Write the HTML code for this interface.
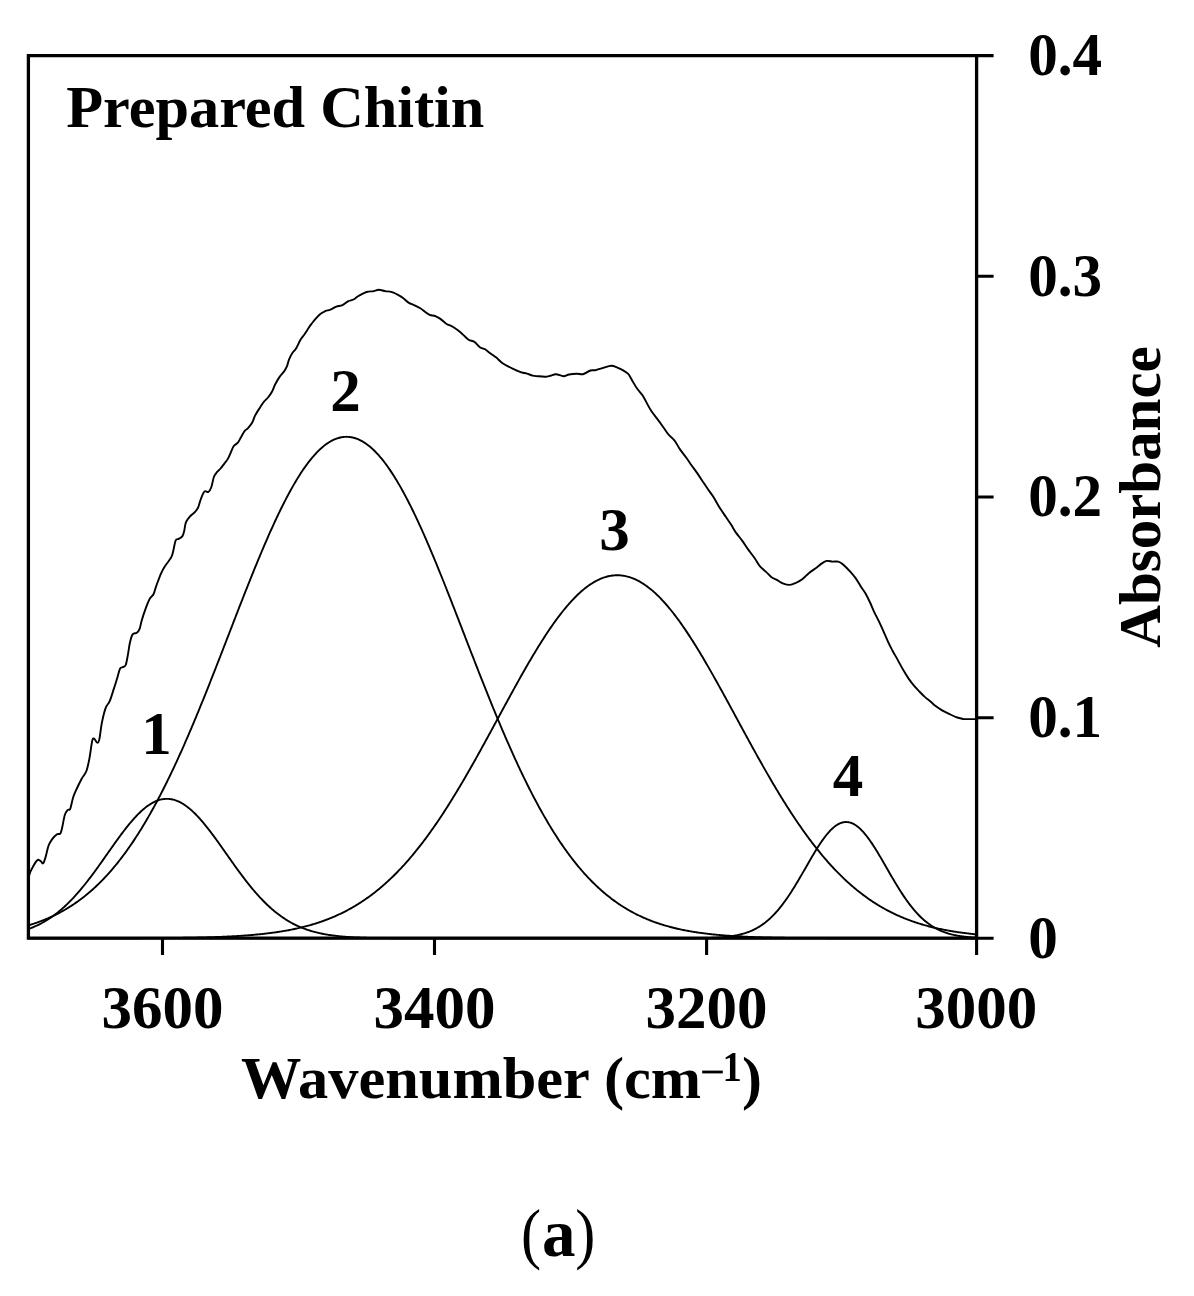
<!DOCTYPE html>
<html><head><meta charset="utf-8"><style>
html,body{margin:0;padding:0;background:#fff;width:1194px;height:1296px;overflow:hidden}
svg{display:block}
text{font-family:"Liberation Serif",serif;font-weight:bold;fill:#000}
</style></head><body>
<svg width="1194" height="1296" viewBox="0 0 1194 1296">
<rect width="1194" height="1296" fill="#fff"/>
<g fill="none" stroke="#000" stroke-width="1.9" stroke-linejoin="round" stroke-linecap="round">
<path d="M28.4,929.05 L29.4,928.68 L30.4,928.30 L31.4,927.90 L32.4,927.50 L33.4,927.08 L34.4,926.65 L35.4,926.21 L36.4,925.75 L37.4,925.28 L38.4,924.80 L39.4,924.30 L40.4,923.79 L41.4,923.26 L42.4,922.72 L43.4,922.16 L44.4,921.59 L45.4,921.01 L46.4,920.40 L47.4,919.79 L48.4,919.15 L49.4,918.50 L50.4,917.84 L51.4,917.15 L52.4,916.45 L53.4,915.74 L54.4,915.00 L55.4,914.25 L56.4,913.49 L57.4,912.70 L58.4,911.90 L59.4,911.08 L60.4,910.25 L61.4,909.39 L62.4,908.52 L63.4,907.63 L64.4,906.72 L65.4,905.80 L66.4,904.86 L67.4,903.90 L68.4,902.92 L69.4,901.93 L70.4,900.91 L71.4,899.89 L72.4,898.84 L73.4,897.78 L74.4,896.69 L75.4,895.60 L76.4,894.48 L77.4,893.35 L78.4,892.21 L79.4,891.05 L80.4,889.87 L81.4,888.68 L82.4,887.47 L83.4,886.25 L84.4,885.01 L85.4,883.76 L86.4,882.50 L87.4,881.22 L88.4,879.93 L89.4,878.63 L90.4,877.31 L91.4,875.99 L92.4,874.65 L93.4,873.31 L94.4,871.95 L95.4,870.58 L96.4,869.21 L97.4,867.83 L98.4,866.44 L99.4,865.05 L100.4,863.64 L101.4,862.24 L102.4,860.83 L103.4,859.41 L104.4,857.99 L105.4,856.57 L106.4,855.15 L107.4,853.73 L108.4,852.30 L109.4,850.88 L110.4,849.46 L111.4,848.04 L112.4,846.63 L113.4,845.22 L114.4,843.81 L115.4,842.41 L116.4,841.02 L117.4,839.64 L118.4,838.26 L119.4,836.89 L120.4,835.54 L121.4,834.19 L122.4,832.86 L123.4,831.54 L124.4,830.23 L125.4,828.94 L126.4,827.67 L127.4,826.41 L128.4,825.17 L129.4,823.95 L130.4,822.74 L131.4,821.56 L132.4,820.40 L133.4,819.26 L134.4,818.15 L135.4,817.06 L136.4,815.99 L137.4,814.95 L138.4,813.93 L139.4,812.95 L140.4,811.99 L141.4,811.05 L142.4,810.15 L143.4,809.28 L144.4,808.44 L145.4,807.63 L146.4,806.85 L147.4,806.11 L148.4,805.40 L149.4,804.72 L150.4,804.08 L151.4,803.47 L152.4,802.90 L153.4,802.37 L154.4,801.87 L155.4,801.40 L156.4,800.98 L157.4,800.59 L158.4,800.24 L159.4,799.93 L160.4,799.66 L161.4,799.42 L162.4,799.23 L163.4,799.07 L164.4,798.96 L165.4,798.88 L166.4,798.84 L167.4,798.85 L168.4,798.89 L169.4,798.97 L170.4,799.09 L171.4,799.25 L172.4,799.45 L173.4,799.68 L174.4,799.96 L175.4,800.28 L176.4,800.63 L177.4,801.02 L178.4,801.45 L179.4,801.91 L180.4,802.42 L181.4,802.96 L182.4,803.53 L183.4,804.14 L184.4,804.79 L185.4,805.47 L186.4,806.18 L187.4,806.93 L188.4,807.71 L189.4,808.52 L190.4,809.37 L191.4,810.24 L192.4,811.15 L193.4,812.08 L194.4,813.04 L195.4,814.03 L196.4,815.05 L197.4,816.10 L198.4,817.16 L199.4,818.26 L200.4,819.38 L201.4,820.52 L202.4,821.68 L203.4,822.86 L204.4,824.07 L205.4,825.29 L206.4,826.53 L207.4,827.79 L208.4,829.07 L209.4,830.36 L210.4,831.67 L211.4,832.99 L212.4,834.32 L213.4,835.67 L214.4,837.03 L215.4,838.40 L216.4,839.77 L217.4,841.16 L218.4,842.55 L219.4,843.95 L220.4,845.36 L221.4,846.77 L222.4,848.19 L223.4,849.60 L224.4,851.02 L225.4,852.45 L226.4,853.87 L227.4,855.29 L228.4,856.71 L229.4,858.13 L230.4,859.55 L231.4,860.97 L232.4,862.38 L233.4,863.78 L234.4,865.19 L235.4,866.58 L236.4,867.97 L237.4,869.35 L238.4,870.72 L239.4,872.09 L240.4,873.44 L241.4,874.79 L242.4,876.12 L243.4,877.44 L244.4,878.76 L245.4,880.06 L246.4,881.35 L247.4,882.62 L248.4,883.89 L249.4,885.13 L250.4,886.37 L251.4,887.59 L252.4,888.80 L253.4,889.99 L254.4,891.16 L255.4,892.32 L256.4,893.47 L257.4,894.60 L258.4,895.71 L259.4,896.80 L260.4,897.88 L261.4,898.94 L262.4,899.99 L263.4,901.02 L264.4,902.03 L265.4,903.02 L266.4,903.99 L267.4,904.95 L268.4,905.89 L269.4,906.82 L270.4,907.72 L271.4,908.61 L272.4,909.48 L273.4,910.33 L274.4,911.16 L275.4,911.98 L276.4,912.78 L277.4,913.56 L278.4,914.33 L279.4,915.08 L280.4,915.81 L281.4,916.52 L282.4,917.22 L283.4,917.90 L284.4,918.57 L285.4,919.22 L286.4,919.85 L287.4,920.46 L288.4,921.07 L289.4,921.65 L290.4,922.22 L291.4,922.78 L292.4,923.31 L293.4,923.84 L294.4,924.35 L295.4,924.85 L296.4,925.33 L297.4,925.80 L298.4,926.25 L299.4,926.70 L300.4,927.12 L301.4,927.54 L302.4,927.94 L303.4,928.34 L304.4,928.71 L305.4,929.08 L306.4,929.44 L307.4,929.78 L308.4,930.12 L309.4,930.44 L310.4,930.75 L311.4,931.05 L312.4,931.34 L313.4,931.62 L314.4,931.90 L315.4,932.16 L316.4,932.41 L317.4,932.66 L318.4,932.89 L319.4,933.12 L320.4,933.34 L321.4,933.55 L322.4,933.76 L323.4,933.95 L324.4,934.14 L325.4,934.32 L326.4,934.50 L327.4,934.67 L328.4,934.83 L329.4,934.98 L330.4,935.13 L331.4,935.28 L332.4,935.42 L333.4,935.55 L334.4,935.68 L335.4,935.80 L336.4,935.91 L337.4,936.03 L338.4,936.13 L339.4,936.24 L340.4,936.34 L341.4,936.43 L342.4,936.52 L343.4,936.61 L344.4,936.69 L345.4,936.77 L346.4,936.84 L347.4,936.92 L348.4,936.99 L349.4,937.05 L350.4,937.11 L351.4,937.17 L352.4,937.23 L353.4,937.29 L354.4,937.34 L355.4,937.39 L356.4,937.44 L357.4,937.48 L358.4,937.52 L359.4,937.57 L360.4,937.60 L361.4,937.64 L362.4,937.68 L363.4,937.71 L364.4,937.74 L365.4,937.77 L366.4,937.80 L367.4,937.83 L368.4,937.86 L369.4,937.88 L370.4,937.90 L371.4,937.93 L372.4,937.95 L373.4,937.97 L374.4,937.99 L375.4,938.00 L376.4,938.02 L377.4,938.04 L378.4,938.05 L379.4,938.07 L380.4,938.08 L381.4,938.09 L382.4,938.11 L383.4,938.12 L384.4,938.13 L385.4,938.14 L386.4,938.15 L387.4,938.16 L388.4,938.17 L389.4,938.17 L390.4,938.18 L391.4,938.19 L392.4,938.20 L393.4,938.20 L394.4,938.21 L395.4,938.21 L396.4,938.22 L397.4,938.22 L398.4,938.23 L399.4,938.23 L400.4,938.24 L401.4,938.24 L402.4,938.25 L403.4,938.25 L404.4,938.25 L405.4,938.26 L406.4,938.26 L407.4,938.26 L408.4,938.26 L409.4,938.27 L410.4,938.27 L411.4,938.27 L412.4,938.27 L413.4,938.27 L414.4,938.28 L415.4,938.28 L416.4,938.28 L417.4,938.28 L418.4,938.28 L419.4,938.28 L420.4,938.28 L421.4,938.29 L422.4,938.29 L423.4,938.29 L424.4,938.29 L425.4,938.29 L426.4,938.29 L427.4,938.29 L428.4,938.29 L429.4,938.29 L430.4,938.29 L431.4,938.29 L432.4,938.29 L433.4,938.29 L434.4,938.29 L435.4,938.29 L436.4,938.30 L437.4,938.30 L438.4,938.30 L439.4,938.30 L440.4,938.30 L441.4,938.30 L442.4,938.30 L443.4,938.30 L444.4,938.30 L445.4,938.30 L446.4,938.30 L447.4,938.30 L448.4,938.30 L449.4,938.30 L450.4,938.30 L451.4,938.30 L452.4,938.30 L453.4,938.30 L454.4,938.30 L455.4,938.30 L456.4,938.30 L457.4,938.30 L458.4,938.30 L459.4,938.30 L460.4,938.30 L461.4,938.30 L462.4,938.30 L463.4,938.30 L464.4,938.30 L465.4,938.30 L466.4,938.30 L467.4,938.30 L468.4,938.30 L469.4,938.30 L470.4,938.30 L471.4,938.30 L472.4,938.30 L473.4,938.30 L474.4,938.30 L475.4,938.30 L476.4,938.30 L477.4,938.30 L478.4,938.30 L479.4,938.30 L480.4,938.30 L481.4,938.30 L482.4,938.30 L483.4,938.30 L484.4,938.30 L485.4,938.30 L486.4,938.30 L487.4,938.30 L488.4,938.30 L489.4,938.30 L490.4,938.30 L491.4,938.30 L492.4,938.30 L493.4,938.30 L494.4,938.30 L495.4,938.30 L496.4,938.30 L497.4,938.30 L498.4,938.30 L499.4,938.30 L500.4,938.30 L501.4,938.30 L502.4,938.30 L503.4,938.30 L504.4,938.30 L505.4,938.30 L506.4,938.30 L507.4,938.30 L508.4,938.30 L509.4,938.30 L510.4,938.30 L511.4,938.30 L512.4,938.30 L513.4,938.30 L514.4,938.30 L515.4,938.30 L516.4,938.30 L517.4,938.30 L518.4,938.30 L519.4,938.30 L520.4,938.30 L521.4,938.30 L522.4,938.30 L523.4,938.30 L524.4,938.30 L525.4,938.30 L526.4,938.30 L527.4,938.30 L528.4,938.30 L529.4,938.30 L530.4,938.30 L531.4,938.30 L532.4,938.30 L533.4,938.30 L534.4,938.30 L535.4,938.30 L536.4,938.30 L537.4,938.30 L538.4,938.30 L539.4,938.30 L540.4,938.30 L541.4,938.30 L542.4,938.30 L543.4,938.30 L544.4,938.30 L545.4,938.30 L546.4,938.30 L547.4,938.30 L548.4,938.30 L549.4,938.30 L550.4,938.30 L551.4,938.30 L552.4,938.30 L553.4,938.30 L554.4,938.30 L555.4,938.30 L556.4,938.30 L557.4,938.30 L558.4,938.30 L559.4,938.30 L560.4,938.30 L561.4,938.30 L562.4,938.30 L563.4,938.30 L564.4,938.30 L565.4,938.30 L566.4,938.30 L567.4,938.30 L568.4,938.30 L569.4,938.30 L570.4,938.30 L571.4,938.30 L572.4,938.30 L573.4,938.30 L574.4,938.30 L575.4,938.30 L576.4,938.30 L577.4,938.30 L578.4,938.30 L579.4,938.30 L580.4,938.30 L581.4,938.30 L582.4,938.30 L583.4,938.30 L584.4,938.30 L585.4,938.30 L586.4,938.30 L587.4,938.30 L588.4,938.30 L589.4,938.30 L590.4,938.30 L591.4,938.30 L592.4,938.30 L593.4,938.30 L594.4,938.30 L595.4,938.30 L596.4,938.30 L597.4,938.30 L598.4,938.30 L599.4,938.30 L600.4,938.30 L601.4,938.30 L602.4,938.30 L603.4,938.30 L604.4,938.30 L605.4,938.30 L606.4,938.30 L607.4,938.30 L608.4,938.30 L609.4,938.30 L610.4,938.30 L611.4,938.30 L612.4,938.30 L613.4,938.30 L614.4,938.30 L615.4,938.30 L616.4,938.30 L617.4,938.30 L618.4,938.30 L619.4,938.30 L620.4,938.30 L621.4,938.30 L622.4,938.30 L623.4,938.30 L624.4,938.30 L625.4,938.30 L626.4,938.30 L627.4,938.30 L628.4,938.30 L629.4,938.30 L630.4,938.30 L631.4,938.30 L632.4,938.30 L633.4,938.30 L634.4,938.30 L635.4,938.30 L636.4,938.30 L637.4,938.30 L638.4,938.30 L639.4,938.30 L640.4,938.30 L641.4,938.30 L642.4,938.30 L643.4,938.30 L644.4,938.30 L645.4,938.30 L646.4,938.30 L647.4,938.30 L648.4,938.30 L649.4,938.30 L650.4,938.30 L651.4,938.30 L652.4,938.30 L653.4,938.30 L654.4,938.30 L655.4,938.30 L656.4,938.30 L657.4,938.30 L658.4,938.30 L659.4,938.30 L660.4,938.30 L661.4,938.30 L662.4,938.30 L663.4,938.30 L664.4,938.30 L665.4,938.30 L666.4,938.30 L667.4,938.30 L668.4,938.30 L669.4,938.30 L670.4,938.30 L671.4,938.30 L672.4,938.30 L673.4,938.30 L674.4,938.30 L675.4,938.30 L676.4,938.30 L677.4,938.30 L678.4,938.30 L679.4,938.30 L680.4,938.30 L681.4,938.30 L682.4,938.30 L683.4,938.30 L684.4,938.30 L685.4,938.30 L686.4,938.30 L687.4,938.30 L688.4,938.30 L689.4,938.30 L690.4,938.30 L691.4,938.30 L692.4,938.30 L693.4,938.30 L694.4,938.30 L695.4,938.30 L696.4,938.30 L697.4,938.30 L698.4,938.30 L699.4,938.30 L700.4,938.30 L701.4,938.30 L702.4,938.30 L703.4,938.30 L704.4,938.30 L705.4,938.30 L706.4,938.30 L707.4,938.30 L708.4,938.30 L709.4,938.30 L710.4,938.30 L711.4,938.30 L712.4,938.30 L713.4,938.30 L714.4,938.30 L715.4,938.30 L716.4,938.30 L717.4,938.30 L718.4,938.30 L719.4,938.30 L720.4,938.30 L721.4,938.30 L722.4,938.30 L723.4,938.30 L724.4,938.30 L725.4,938.30 L726.4,938.30 L727.4,938.30 L728.4,938.30 L729.4,938.30 L730.4,938.30 L731.4,938.30 L732.4,938.30 L733.4,938.30 L734.4,938.30 L735.4,938.30 L736.4,938.30 L737.4,938.30 L738.4,938.30 L739.4,938.30 L740.4,938.30 L741.4,938.30 L742.4,938.30 L743.4,938.30 L744.4,938.30 L745.4,938.30 L746.4,938.30 L747.4,938.30 L748.4,938.30 L749.4,938.30 L750.4,938.30 L751.4,938.30 L752.4,938.30 L753.4,938.30 L754.4,938.30 L755.4,938.30 L756.4,938.30 L757.4,938.30 L758.4,938.30 L759.4,938.30 L760.4,938.30 L761.4,938.30 L762.4,938.30 L763.4,938.30 L764.4,938.30 L765.4,938.30 L766.4,938.30 L767.4,938.30 L768.4,938.30 L769.4,938.30 L770.4,938.30 L771.4,938.30 L772.4,938.30 L773.4,938.30 L774.4,938.30 L775.4,938.30 L776.4,938.30 L777.4,938.30 L778.4,938.30 L779.4,938.30 L780.4,938.30 L781.4,938.30 L782.4,938.30 L783.4,938.30 L784.4,938.30 L785.4,938.30 L786.4,938.30 L787.4,938.30 L788.4,938.30 L789.4,938.30 L790.4,938.30 L791.4,938.30 L792.4,938.30 L793.4,938.30 L794.4,938.30 L795.4,938.30 L796.4,938.30 L797.4,938.30 L798.4,938.30 L799.4,938.30 L800.4,938.30 L801.4,938.30 L802.4,938.30 L803.4,938.30 L804.4,938.30 L805.4,938.30 L806.4,938.30 L807.4,938.30 L808.4,938.30 L809.4,938.30 L810.4,938.30 L811.4,938.30 L812.4,938.30 L813.4,938.30 L814.4,938.30 L815.4,938.30 L816.4,938.30 L817.4,938.30 L818.4,938.30 L819.4,938.30 L820.4,938.30 L821.4,938.30 L822.4,938.30 L823.4,938.30 L824.4,938.30 L825.4,938.30 L826.4,938.30 L827.4,938.30 L828.4,938.30 L829.4,938.30 L830.4,938.30 L831.4,938.30 L832.4,938.30 L833.4,938.30 L834.4,938.30 L835.4,938.30 L836.4,938.30 L837.4,938.30 L838.4,938.30 L839.4,938.30 L840.4,938.30 L841.4,938.30 L842.4,938.30 L843.4,938.30 L844.4,938.30 L845.4,938.30 L846.4,938.30 L847.4,938.30 L848.4,938.30 L849.4,938.30 L850.4,938.30 L851.4,938.30 L852.4,938.30 L853.4,938.30 L854.4,938.30 L855.4,938.30 L856.4,938.30 L857.4,938.30 L858.4,938.30 L859.4,938.30 L860.4,938.30 L861.4,938.30 L862.4,938.30 L863.4,938.30 L864.4,938.30 L865.4,938.30 L866.4,938.30 L867.4,938.30 L868.4,938.30 L869.4,938.30 L870.4,938.30 L871.4,938.30 L872.4,938.30 L873.4,938.30 L874.4,938.30 L875.4,938.30 L876.4,938.30 L877.4,938.30 L878.4,938.30 L879.4,938.30 L880.4,938.30 L881.4,938.30 L882.4,938.30 L883.4,938.30 L884.4,938.30 L885.4,938.30 L886.4,938.30 L887.4,938.30 L888.4,938.30 L889.4,938.30 L890.4,938.30 L891.4,938.30 L892.4,938.30 L893.4,938.30 L894.4,938.30 L895.4,938.30 L896.4,938.30 L897.4,938.30 L898.4,938.30 L899.4,938.30 L900.4,938.30 L901.4,938.30 L902.4,938.30 L903.4,938.30 L904.4,938.30 L905.4,938.30 L906.4,938.30 L907.4,938.30 L908.4,938.30 L909.4,938.30 L910.4,938.30 L911.4,938.30 L912.4,938.30 L913.4,938.30 L914.4,938.30 L915.4,938.30 L916.4,938.30 L917.4,938.30 L918.4,938.30 L919.4,938.30 L920.4,938.30 L921.4,938.30 L922.4,938.30 L923.4,938.30 L924.4,938.30 L925.4,938.30 L926.4,938.30 L927.4,938.30 L928.4,938.30 L929.4,938.30 L930.4,938.30 L931.4,938.30 L932.4,938.30 L933.4,938.30 L934.4,938.30 L935.4,938.30 L936.4,938.30 L937.4,938.30 L938.4,938.30 L939.4,938.30 L940.4,938.30 L941.4,938.30 L942.4,938.30 L943.4,938.30 L944.4,938.30 L945.4,938.30 L946.4,938.30 L947.4,938.30 L948.4,938.30 L949.4,938.30 L950.4,938.30 L951.4,938.30 L952.4,938.30 L953.4,938.30 L954.4,938.30 L955.4,938.30 L956.4,938.30 L957.4,938.30 L958.4,938.30 L959.4,938.30 L960.4,938.30 L961.4,938.30 L962.4,938.30 L963.4,938.30 L964.4,938.30 L965.4,938.30 L966.4,938.30 L967.4,938.30 L968.4,938.30 L969.4,938.30 L970.4,938.30 L971.4,938.30 L972.4,938.30 L973.4,938.30 L974.4,938.30 L975.4,938.30 L976.4,938.30"/>
<path d="M28.4,925.36 L29.4,925.06 L30.4,924.75 L31.4,924.44 L32.4,924.12 L33.4,923.79 L34.4,923.46 L35.4,923.12 L36.4,922.78 L37.4,922.43 L38.4,922.07 L39.4,921.70 L40.4,921.33 L41.4,920.95 L42.4,920.57 L43.4,920.17 L44.4,919.77 L45.4,919.36 L46.4,918.95 L47.4,918.53 L48.4,918.09 L49.4,917.65 L50.4,917.21 L51.4,916.75 L52.4,916.29 L53.4,915.82 L54.4,915.33 L55.4,914.85 L56.4,914.35 L57.4,913.84 L58.4,913.33 L59.4,912.80 L60.4,912.27 L61.4,911.72 L62.4,911.17 L63.4,910.61 L64.4,910.04 L65.4,909.46 L66.4,908.87 L67.4,908.26 L68.4,907.65 L69.4,907.03 L70.4,906.40 L71.4,905.76 L72.4,905.11 L73.4,904.44 L74.4,903.77 L75.4,903.09 L76.4,902.39 L77.4,901.68 L78.4,900.97 L79.4,900.24 L80.4,899.50 L81.4,898.74 L82.4,897.98 L83.4,897.20 L84.4,896.42 L85.4,895.62 L86.4,894.80 L87.4,893.98 L88.4,893.14 L89.4,892.30 L90.4,891.43 L91.4,890.56 L92.4,889.67 L93.4,888.77 L94.4,887.86 L95.4,886.94 L96.4,886.00 L97.4,885.04 L98.4,884.08 L99.4,883.10 L100.4,882.11 L101.4,881.10 L102.4,880.08 L103.4,879.05 L104.4,878.00 L105.4,876.93 L106.4,875.86 L107.4,874.77 L108.4,873.66 L109.4,872.54 L110.4,871.41 L111.4,870.26 L112.4,869.10 L113.4,867.92 L114.4,866.72 L115.4,865.51 L116.4,864.29 L117.4,863.05 L118.4,861.80 L119.4,860.53 L120.4,859.25 L121.4,857.95 L122.4,856.63 L123.4,855.30 L124.4,853.95 L125.4,852.59 L126.4,851.21 L127.4,849.82 L128.4,848.41 L129.4,846.99 L130.4,845.55 L131.4,844.09 L132.4,842.62 L133.4,841.13 L134.4,839.62 L135.4,838.10 L136.4,836.56 L137.4,835.01 L138.4,833.44 L139.4,831.86 L140.4,830.25 L141.4,828.64 L142.4,827.00 L143.4,825.35 L144.4,823.69 L145.4,822.00 L146.4,820.31 L147.4,818.59 L148.4,816.86 L149.4,815.11 L150.4,813.35 L151.4,811.57 L152.4,809.77 L153.4,807.96 L154.4,806.14 L155.4,804.29 L156.4,802.43 L157.4,800.56 L158.4,798.67 L159.4,796.76 L160.4,794.84 L161.4,792.90 L162.4,790.95 L163.4,788.98 L164.4,787.00 L165.4,785.00 L166.4,782.98 L167.4,780.95 L168.4,778.91 L169.4,776.85 L170.4,774.78 L171.4,772.69 L172.4,770.58 L173.4,768.47 L174.4,766.33 L175.4,764.19 L176.4,762.03 L177.4,759.85 L178.4,757.66 L179.4,755.46 L180.4,753.25 L181.4,751.02 L182.4,748.78 L183.4,746.52 L184.4,744.26 L185.4,741.98 L186.4,739.68 L187.4,737.38 L188.4,735.06 L189.4,732.73 L190.4,730.39 L191.4,728.04 L192.4,725.68 L193.4,723.31 L194.4,720.92 L195.4,718.53 L196.4,716.12 L197.4,713.71 L198.4,711.28 L199.4,708.85 L200.4,706.40 L201.4,703.95 L202.4,701.49 L203.4,699.02 L204.4,696.54 L205.4,694.05 L206.4,691.55 L207.4,689.05 L208.4,686.54 L209.4,684.03 L210.4,681.50 L211.4,678.97 L212.4,676.44 L213.4,673.90 L214.4,671.35 L215.4,668.80 L216.4,666.24 L217.4,663.68 L218.4,661.12 L219.4,658.55 L220.4,655.98 L221.4,653.40 L222.4,650.83 L223.4,648.25 L224.4,645.67 L225.4,643.08 L226.4,640.50 L227.4,637.91 L228.4,635.33 L229.4,632.74 L230.4,630.15 L231.4,627.57 L232.4,624.98 L233.4,622.40 L234.4,619.82 L235.4,617.24 L236.4,614.66 L237.4,612.09 L238.4,609.52 L239.4,606.95 L240.4,604.39 L241.4,601.83 L242.4,599.28 L243.4,596.73 L244.4,594.19 L245.4,591.65 L246.4,589.12 L247.4,586.60 L248.4,584.08 L249.4,581.58 L250.4,579.08 L251.4,576.59 L252.4,574.11 L253.4,571.63 L254.4,569.17 L255.4,566.72 L256.4,564.28 L257.4,561.85 L258.4,559.43 L259.4,557.03 L260.4,554.63 L261.4,552.25 L262.4,549.88 L263.4,547.53 L264.4,545.19 L265.4,542.86 L266.4,540.55 L267.4,538.26 L268.4,535.98 L269.4,533.72 L270.4,531.47 L271.4,529.24 L272.4,527.03 L273.4,524.84 L274.4,522.66 L275.4,520.51 L276.4,518.37 L277.4,516.25 L278.4,514.16 L279.4,512.08 L280.4,510.02 L281.4,507.99 L282.4,505.97 L283.4,503.98 L284.4,502.01 L285.4,500.07 L286.4,498.14 L287.4,496.24 L288.4,494.37 L289.4,492.52 L290.4,490.69 L291.4,488.89 L292.4,487.11 L293.4,485.36 L294.4,483.64 L295.4,481.94 L296.4,480.27 L297.4,478.62 L298.4,477.01 L299.4,475.42 L300.4,473.86 L301.4,472.32 L302.4,470.82 L303.4,469.34 L304.4,467.90 L305.4,466.48 L306.4,465.10 L307.4,463.74 L308.4,462.42 L309.4,461.12 L310.4,459.86 L311.4,458.63 L312.4,457.43 L313.4,456.26 L314.4,455.12 L315.4,454.02 L316.4,452.95 L317.4,451.91 L318.4,450.90 L319.4,449.93 L320.4,448.99 L321.4,448.08 L322.4,447.21 L323.4,446.38 L324.4,445.57 L325.4,444.80 L326.4,444.07 L327.4,443.37 L328.4,442.70 L329.4,442.07 L330.4,441.48 L331.4,440.92 L332.4,440.40 L333.4,439.91 L334.4,439.45 L335.4,439.04 L336.4,438.65 L337.4,438.31 L338.4,438.00 L339.4,437.73 L340.4,437.49 L341.4,437.29 L342.4,437.12 L343.4,436.99 L344.4,436.90 L345.4,436.84 L346.4,436.82 L347.4,436.84 L348.4,436.89 L349.4,436.98 L350.4,437.10 L351.4,437.26 L352.4,437.46 L353.4,437.69 L354.4,437.96 L355.4,438.26 L356.4,438.60 L357.4,438.98 L358.4,439.39 L359.4,439.84 L360.4,440.33 L361.4,440.84 L362.4,441.40 L363.4,441.99 L364.4,442.61 L365.4,443.27 L366.4,443.97 L367.4,444.70 L368.4,445.46 L369.4,446.26 L370.4,447.09 L371.4,447.96 L372.4,448.86 L373.4,449.80 L374.4,450.76 L375.4,451.76 L376.4,452.80 L377.4,453.87 L378.4,454.96 L379.4,456.10 L380.4,457.26 L381.4,458.46 L382.4,459.68 L383.4,460.94 L384.4,462.23 L385.4,463.55 L386.4,464.91 L387.4,466.29 L388.4,467.70 L389.4,469.14 L390.4,470.61 L391.4,472.11 L392.4,473.64 L393.4,475.20 L394.4,476.78 L395.4,478.39 L396.4,480.04 L397.4,481.70 L398.4,483.40 L399.4,485.12 L400.4,486.87 L401.4,488.64 L402.4,490.44 L403.4,492.26 L404.4,494.11 L405.4,495.98 L406.4,497.88 L407.4,499.80 L408.4,501.74 L409.4,503.71 L410.4,505.69 L411.4,507.70 L412.4,509.74 L413.4,511.79 L414.4,513.86 L415.4,515.96 L416.4,518.07 L417.4,520.21 L418.4,522.36 L419.4,524.53 L420.4,526.72 L421.4,528.93 L422.4,531.16 L423.4,533.40 L424.4,535.66 L425.4,537.94 L426.4,540.23 L427.4,542.54 L428.4,544.86 L429.4,547.20 L430.4,549.55 L431.4,551.92 L432.4,554.30 L433.4,556.69 L434.4,559.09 L435.4,561.51 L436.4,563.94 L437.4,566.38 L438.4,568.83 L439.4,571.29 L440.4,573.76 L441.4,576.24 L442.4,578.73 L443.4,581.23 L444.4,583.73 L445.4,586.25 L446.4,588.77 L447.4,591.30 L448.4,593.83 L449.4,596.37 L450.4,598.92 L451.4,601.47 L452.4,604.03 L453.4,606.59 L454.4,609.16 L455.4,611.73 L456.4,614.30 L457.4,616.88 L458.4,619.46 L459.4,622.04 L460.4,624.62 L461.4,627.21 L462.4,629.79 L463.4,632.38 L464.4,634.96 L465.4,637.55 L466.4,640.14 L467.4,642.72 L468.4,645.30 L469.4,647.89 L470.4,650.47 L471.4,653.04 L472.4,655.62 L473.4,658.19 L474.4,660.76 L475.4,663.32 L476.4,665.89 L477.4,668.44 L478.4,670.99 L479.4,673.54 L480.4,676.08 L481.4,678.62 L482.4,681.15 L483.4,683.67 L484.4,686.19 L485.4,688.70 L486.4,691.20 L487.4,693.70 L488.4,696.19 L489.4,698.67 L490.4,701.14 L491.4,703.60 L492.4,706.06 L493.4,708.50 L494.4,710.94 L495.4,713.37 L496.4,715.78 L497.4,718.19 L498.4,720.59 L499.4,722.97 L500.4,725.35 L501.4,727.71 L502.4,730.07 L503.4,732.41 L504.4,734.74 L505.4,737.06 L506.4,739.36 L507.4,741.66 L508.4,743.94 L509.4,746.21 L510.4,748.46 L511.4,750.71 L512.4,752.94 L513.4,755.15 L514.4,757.36 L515.4,759.55 L516.4,761.72 L517.4,763.89 L518.4,766.03 L519.4,768.17 L520.4,770.29 L521.4,772.39 L522.4,774.48 L523.4,776.56 L524.4,778.62 L525.4,780.67 L526.4,782.70 L527.4,784.72 L528.4,786.72 L529.4,788.70 L530.4,790.67 L531.4,792.63 L532.4,794.57 L533.4,796.49 L534.4,798.40 L535.4,800.30 L536.4,802.17 L537.4,804.03 L538.4,805.88 L539.4,807.71 L540.4,809.52 L541.4,811.32 L542.4,813.10 L543.4,814.87 L544.4,816.62 L545.4,818.35 L546.4,820.07 L547.4,821.77 L548.4,823.45 L549.4,825.12 L550.4,826.77 L551.4,828.41 L552.4,830.03 L553.4,831.63 L554.4,833.22 L555.4,834.79 L556.4,836.35 L557.4,837.89 L558.4,839.41 L559.4,840.92 L560.4,842.41 L561.4,843.88 L562.4,845.34 L563.4,846.79 L564.4,848.21 L565.4,849.62 L566.4,851.02 L567.4,852.40 L568.4,853.76 L569.4,855.11 L570.4,856.45 L571.4,857.76 L572.4,859.06 L573.4,860.35 L574.4,861.62 L575.4,862.88 L576.4,864.12 L577.4,865.34 L578.4,866.55 L579.4,867.75 L580.4,868.93 L581.4,870.10 L582.4,871.25 L583.4,872.38 L584.4,873.51 L585.4,874.61 L586.4,875.71 L587.4,876.78 L588.4,877.85 L589.4,878.90 L590.4,879.94 L591.4,880.96 L592.4,881.97 L593.4,882.96 L594.4,883.94 L595.4,884.91 L596.4,885.86 L597.4,886.80 L598.4,887.73 L599.4,888.65 L600.4,889.55 L601.4,890.44 L602.4,891.31 L603.4,892.18 L604.4,893.03 L605.4,893.86 L606.4,894.69 L607.4,895.50 L608.4,896.30 L609.4,897.09 L610.4,897.87 L611.4,898.64 L612.4,899.39 L613.4,900.13 L614.4,900.86 L615.4,901.58 L616.4,902.29 L617.4,902.99 L618.4,903.67 L619.4,904.35 L620.4,905.01 L621.4,905.67 L622.4,906.31 L623.4,906.94 L624.4,907.57 L625.4,908.18 L626.4,908.78 L627.4,909.37 L628.4,909.96 L629.4,910.53 L630.4,911.09 L631.4,911.65 L632.4,912.19 L633.4,912.73 L634.4,913.25 L635.4,913.77 L636.4,914.28 L637.4,914.78 L638.4,915.27 L639.4,915.75 L640.4,916.22 L641.4,916.69 L642.4,917.14 L643.4,917.59 L644.4,918.03 L645.4,918.47 L646.4,918.89 L647.4,919.31 L648.4,919.72 L649.4,920.12 L650.4,920.51 L651.4,920.90 L652.4,921.28 L653.4,921.65 L654.4,922.02 L655.4,922.38 L656.4,922.73 L657.4,923.08 L658.4,923.41 L659.4,923.75 L660.4,924.07 L661.4,924.39 L662.4,924.71 L663.4,925.01 L664.4,925.32 L665.4,925.61 L666.4,925.90 L667.4,926.18 L668.4,926.46 L669.4,926.74 L670.4,927.00 L671.4,927.26 L672.4,927.52 L673.4,927.77 L674.4,928.02 L675.4,928.26 L676.4,928.50 L677.4,928.73 L678.4,928.95 L679.4,929.18 L680.4,929.39 L681.4,929.61 L682.4,929.81 L683.4,930.02 L684.4,930.22 L685.4,930.41 L686.4,930.60 L687.4,930.79 L688.4,930.97 L689.4,931.15 L690.4,931.33 L691.4,931.50 L692.4,931.67 L693.4,931.83 L694.4,931.99 L695.4,932.15 L696.4,932.30 L697.4,932.45 L698.4,932.60 L699.4,932.74 L700.4,932.88 L701.4,933.02 L702.4,933.15 L703.4,933.29 L704.4,933.41 L705.4,933.54 L706.4,933.66 L707.4,933.78 L708.4,933.90 L709.4,934.01 L710.4,934.12 L711.4,934.23 L712.4,934.34 L713.4,934.44 L714.4,934.54 L715.4,934.64 L716.4,934.74 L717.4,934.83 L718.4,934.92 L719.4,935.01 L720.4,935.10 L721.4,935.19 L722.4,935.27 L723.4,935.35 L724.4,935.43 L725.4,935.51 L726.4,935.58 L727.4,935.66 L728.4,935.73 L729.4,935.80 L730.4,935.87 L731.4,935.93 L732.4,936.00 L733.4,936.06 L734.4,936.12 L735.4,936.18 L736.4,936.24 L737.4,936.30 L738.4,936.36 L739.4,936.41 L740.4,936.46 L741.4,936.51 L742.4,936.56 L743.4,936.61 L744.4,936.66 L745.4,936.71 L746.4,936.75 L747.4,936.80 L748.4,936.84 L749.4,936.88 L750.4,936.92 L751.4,936.96 L752.4,937.00 L753.4,937.04 L754.4,937.08 L755.4,937.11 L756.4,937.15 L757.4,937.18 L758.4,937.21 L759.4,937.24 L760.4,937.28 L761.4,937.31 L762.4,937.34 L763.4,937.36 L764.4,937.39 L765.4,937.42 L766.4,937.45 L767.4,937.47 L768.4,937.50 L769.4,937.52 L770.4,937.54 L771.4,937.57 L772.4,937.59 L773.4,937.61 L774.4,937.63 L775.4,937.65 L776.4,937.67 L777.4,937.69 L778.4,937.71 L779.4,937.73 L780.4,937.75 L781.4,937.76 L782.4,937.78 L783.4,937.80 L784.4,937.81 L785.4,937.83 L786.4,937.84 L787.4,937.86 L788.4,937.87 L789.4,937.88 L790.4,937.90 L791.4,937.91 L792.4,937.92 L793.4,937.93 L794.4,937.94 L795.4,937.96 L796.4,937.97 L797.4,937.98 L798.4,937.99 L799.4,938.00 L800.4,938.01 L801.4,938.02 L802.4,938.03 L803.4,938.04 L804.4,938.04 L805.4,938.05 L806.4,938.06 L807.4,938.07 L808.4,938.08 L809.4,938.08 L810.4,938.09 L811.4,938.10 L812.4,938.10 L813.4,938.11 L814.4,938.12 L815.4,938.12 L816.4,938.13 L817.4,938.13 L818.4,938.14 L819.4,938.15 L820.4,938.15 L821.4,938.16 L822.4,938.16 L823.4,938.17 L824.4,938.17 L825.4,938.17 L826.4,938.18 L827.4,938.18 L828.4,938.19 L829.4,938.19 L830.4,938.19 L831.4,938.20 L832.4,938.20 L833.4,938.20 L834.4,938.21 L835.4,938.21 L836.4,938.21 L837.4,938.22 L838.4,938.22 L839.4,938.22 L840.4,938.23 L841.4,938.23 L842.4,938.23 L843.4,938.23 L844.4,938.24 L845.4,938.24 L846.4,938.24 L847.4,938.24 L848.4,938.24 L849.4,938.25 L850.4,938.25 L851.4,938.25 L852.4,938.25 L853.4,938.25 L854.4,938.26 L855.4,938.26 L856.4,938.26 L857.4,938.26 L858.4,938.26 L859.4,938.26 L860.4,938.26 L861.4,938.27 L862.4,938.27 L863.4,938.27 L864.4,938.27 L865.4,938.27 L866.4,938.27 L867.4,938.27 L868.4,938.27 L869.4,938.27 L870.4,938.28 L871.4,938.28 L872.4,938.28 L873.4,938.28 L874.4,938.28 L875.4,938.28 L876.4,938.28 L877.4,938.28 L878.4,938.28 L879.4,938.28 L880.4,938.28 L881.4,938.28 L882.4,938.28 L883.4,938.29 L884.4,938.29 L885.4,938.29 L886.4,938.29 L887.4,938.29 L888.4,938.29 L889.4,938.29 L890.4,938.29 L891.4,938.29 L892.4,938.29 L893.4,938.29 L894.4,938.29 L895.4,938.29 L896.4,938.29 L897.4,938.29 L898.4,938.29 L899.4,938.29 L900.4,938.29 L901.4,938.29 L902.4,938.29 L903.4,938.29 L904.4,938.29 L905.4,938.29 L906.4,938.29 L907.4,938.29 L908.4,938.29 L909.4,938.29 L910.4,938.29 L911.4,938.30 L912.4,938.30 L913.4,938.30 L914.4,938.30 L915.4,938.30 L916.4,938.30 L917.4,938.30 L918.4,938.30 L919.4,938.30 L920.4,938.30 L921.4,938.30 L922.4,938.30 L923.4,938.30 L924.4,938.30 L925.4,938.30 L926.4,938.30 L927.4,938.30 L928.4,938.30 L929.4,938.30 L930.4,938.30 L931.4,938.30 L932.4,938.30 L933.4,938.30 L934.4,938.30 L935.4,938.30 L936.4,938.30 L937.4,938.30 L938.4,938.30 L939.4,938.30 L940.4,938.30 L941.4,938.30 L942.4,938.30 L943.4,938.30 L944.4,938.30 L945.4,938.30 L946.4,938.30 L947.4,938.30 L948.4,938.30 L949.4,938.30 L950.4,938.30 L951.4,938.30 L952.4,938.30 L953.4,938.30 L954.4,938.30 L955.4,938.30 L956.4,938.30 L957.4,938.30 L958.4,938.30 L959.4,938.30 L960.4,938.30 L961.4,938.30 L962.4,938.30 L963.4,938.30 L964.4,938.30 L965.4,938.30 L966.4,938.30 L967.4,938.30 L968.4,938.30 L969.4,938.30 L970.4,938.30 L971.4,938.30 L972.4,938.30 L973.4,938.30 L974.4,938.30 L975.4,938.30 L976.4,938.30"/>
<path d="M28.4,938.30 L29.4,938.30 L30.4,938.30 L31.4,938.30 L32.4,938.30 L33.4,938.30 L34.4,938.30 L35.4,938.30 L36.4,938.30 L37.4,938.30 L38.4,938.30 L39.4,938.30 L40.4,938.30 L41.4,938.30 L42.4,938.30 L43.4,938.30 L44.4,938.30 L45.4,938.30 L46.4,938.30 L47.4,938.30 L48.4,938.30 L49.4,938.30 L50.4,938.30 L51.4,938.30 L52.4,938.30 L53.4,938.29 L54.4,938.29 L55.4,938.29 L56.4,938.29 L57.4,938.29 L58.4,938.29 L59.4,938.29 L60.4,938.29 L61.4,938.29 L62.4,938.29 L63.4,938.29 L64.4,938.29 L65.4,938.29 L66.4,938.29 L67.4,938.29 L68.4,938.29 L69.4,938.29 L70.4,938.29 L71.4,938.29 L72.4,938.29 L73.4,938.29 L74.4,938.29 L75.4,938.29 L76.4,938.29 L77.4,938.29 L78.4,938.29 L79.4,938.29 L80.4,938.29 L81.4,938.29 L82.4,938.28 L83.4,938.28 L84.4,938.28 L85.4,938.28 L86.4,938.28 L87.4,938.28 L88.4,938.28 L89.4,938.28 L90.4,938.28 L91.4,938.28 L92.4,938.28 L93.4,938.28 L94.4,938.28 L95.4,938.27 L96.4,938.27 L97.4,938.27 L98.4,938.27 L99.4,938.27 L100.4,938.27 L101.4,938.27 L102.4,938.27 L103.4,938.27 L104.4,938.27 L105.4,938.26 L106.4,938.26 L107.4,938.26 L108.4,938.26 L109.4,938.26 L110.4,938.26 L111.4,938.26 L112.4,938.25 L113.4,938.25 L114.4,938.25 L115.4,938.25 L116.4,938.25 L117.4,938.24 L118.4,938.24 L119.4,938.24 L120.4,938.24 L121.4,938.24 L122.4,938.23 L123.4,938.23 L124.4,938.23 L125.4,938.23 L126.4,938.22 L127.4,938.22 L128.4,938.22 L129.4,938.22 L130.4,938.21 L131.4,938.21 L132.4,938.21 L133.4,938.20 L134.4,938.20 L135.4,938.20 L136.4,938.19 L137.4,938.19 L138.4,938.19 L139.4,938.18 L140.4,938.18 L141.4,938.17 L142.4,938.17 L143.4,938.16 L144.4,938.16 L145.4,938.16 L146.4,938.15 L147.4,938.15 L148.4,938.14 L149.4,938.14 L150.4,938.13 L151.4,938.12 L152.4,938.12 L153.4,938.11 L154.4,938.11 L155.4,938.10 L156.4,938.09 L157.4,938.09 L158.4,938.08 L159.4,938.07 L160.4,938.06 L161.4,938.06 L162.4,938.05 L163.4,938.04 L164.4,938.03 L165.4,938.02 L166.4,938.01 L167.4,938.01 L168.4,938.00 L169.4,937.99 L170.4,937.98 L171.4,937.97 L172.4,937.95 L173.4,937.94 L174.4,937.93 L175.4,937.92 L176.4,937.91 L177.4,937.90 L178.4,937.88 L179.4,937.87 L180.4,937.86 L181.4,937.84 L182.4,937.83 L183.4,937.82 L184.4,937.80 L185.4,937.78 L186.4,937.77 L187.4,937.75 L188.4,937.74 L189.4,937.72 L190.4,937.70 L191.4,937.68 L192.4,937.66 L193.4,937.64 L194.4,937.62 L195.4,937.60 L196.4,937.58 L197.4,937.56 L198.4,937.54 L199.4,937.52 L200.4,937.49 L201.4,937.47 L202.4,937.45 L203.4,937.42 L204.4,937.39 L205.4,937.37 L206.4,937.34 L207.4,937.31 L208.4,937.28 L209.4,937.25 L210.4,937.22 L211.4,937.19 L212.4,937.16 L213.4,937.13 L214.4,937.09 L215.4,937.06 L216.4,937.02 L217.4,936.99 L218.4,936.95 L219.4,936.91 L220.4,936.87 L221.4,936.83 L222.4,936.79 L223.4,936.75 L224.4,936.70 L225.4,936.66 L226.4,936.61 L227.4,936.57 L228.4,936.52 L229.4,936.47 L230.4,936.42 L231.4,936.37 L232.4,936.31 L233.4,936.26 L234.4,936.20 L235.4,936.15 L236.4,936.09 L237.4,936.03 L238.4,935.97 L239.4,935.90 L240.4,935.84 L241.4,935.77 L242.4,935.71 L243.4,935.64 L244.4,935.56 L245.4,935.49 L246.4,935.42 L247.4,935.34 L248.4,935.26 L249.4,935.18 L250.4,935.10 L251.4,935.02 L252.4,934.93 L253.4,934.85 L254.4,934.76 L255.4,934.67 L256.4,934.57 L257.4,934.48 L258.4,934.38 L259.4,934.28 L260.4,934.18 L261.4,934.07 L262.4,933.97 L263.4,933.86 L264.4,933.74 L265.4,933.63 L266.4,933.51 L267.4,933.39 L268.4,933.27 L269.4,933.15 L270.4,933.02 L271.4,932.89 L272.4,932.76 L273.4,932.62 L274.4,932.48 L275.4,932.34 L276.4,932.19 L277.4,932.05 L278.4,931.90 L279.4,931.74 L280.4,931.58 L281.4,931.42 L282.4,931.26 L283.4,931.09 L284.4,930.92 L285.4,930.75 L286.4,930.57 L287.4,930.39 L288.4,930.20 L289.4,930.01 L290.4,929.82 L291.4,929.62 L292.4,929.42 L293.4,929.22 L294.4,929.01 L295.4,928.79 L296.4,928.58 L297.4,928.36 L298.4,928.13 L299.4,927.90 L300.4,927.67 L301.4,927.43 L302.4,927.18 L303.4,926.93 L304.4,926.68 L305.4,926.42 L306.4,926.16 L307.4,925.89 L308.4,925.62 L309.4,925.34 L310.4,925.06 L311.4,924.77 L312.4,924.48 L313.4,924.18 L314.4,923.87 L315.4,923.56 L316.4,923.25 L317.4,922.92 L318.4,922.60 L319.4,922.26 L320.4,921.93 L321.4,921.58 L322.4,921.23 L323.4,920.87 L324.4,920.51 L325.4,920.14 L326.4,919.76 L327.4,919.38 L328.4,918.99 L329.4,918.60 L330.4,918.20 L331.4,917.79 L332.4,917.37 L333.4,916.95 L334.4,916.52 L335.4,916.08 L336.4,915.64 L337.4,915.19 L338.4,914.73 L339.4,914.26 L340.4,913.79 L341.4,913.31 L342.4,912.82 L343.4,912.32 L344.4,911.82 L345.4,911.31 L346.4,910.79 L347.4,910.26 L348.4,909.72 L349.4,909.18 L350.4,908.63 L351.4,908.06 L352.4,907.49 L353.4,906.92 L354.4,906.33 L355.4,905.73 L356.4,905.13 L357.4,904.52 L358.4,903.90 L359.4,903.27 L360.4,902.63 L361.4,901.98 L362.4,901.32 L363.4,900.65 L364.4,899.97 L365.4,899.29 L366.4,898.59 L367.4,897.89 L368.4,897.17 L369.4,896.45 L370.4,895.71 L371.4,894.97 L372.4,894.22 L373.4,893.45 L374.4,892.68 L375.4,891.89 L376.4,891.10 L377.4,890.29 L378.4,889.48 L379.4,888.65 L380.4,887.82 L381.4,886.97 L382.4,886.12 L383.4,885.25 L384.4,884.37 L385.4,883.48 L386.4,882.58 L387.4,881.67 L388.4,880.75 L389.4,879.82 L390.4,878.88 L391.4,877.92 L392.4,876.96 L393.4,875.98 L394.4,875.00 L395.4,874.00 L396.4,872.99 L397.4,871.97 L398.4,870.94 L399.4,869.90 L400.4,868.85 L401.4,867.78 L402.4,866.70 L403.4,865.62 L404.4,864.52 L405.4,863.41 L406.4,862.29 L407.4,861.15 L408.4,860.01 L409.4,858.85 L410.4,857.69 L411.4,856.51 L412.4,855.32 L413.4,854.12 L414.4,852.91 L415.4,851.68 L416.4,850.45 L417.4,849.20 L418.4,847.94 L419.4,846.67 L420.4,845.39 L421.4,844.10 L422.4,842.80 L423.4,841.48 L424.4,840.16 L425.4,838.82 L426.4,837.47 L427.4,836.11 L428.4,834.74 L429.4,833.36 L430.4,831.97 L431.4,830.57 L432.4,829.15 L433.4,827.73 L434.4,826.30 L435.4,824.85 L436.4,823.39 L437.4,821.93 L438.4,820.45 L439.4,818.96 L440.4,817.46 L441.4,815.96 L442.4,814.44 L443.4,812.91 L444.4,811.37 L445.4,809.82 L446.4,808.27 L447.4,806.70 L448.4,805.12 L449.4,803.54 L450.4,801.94 L451.4,800.34 L452.4,798.72 L453.4,797.10 L454.4,795.47 L455.4,793.83 L456.4,792.18 L457.4,790.52 L458.4,788.86 L459.4,787.18 L460.4,785.50 L461.4,783.81 L462.4,782.11 L463.4,780.41 L464.4,778.70 L465.4,776.98 L466.4,775.25 L467.4,773.52 L468.4,771.78 L469.4,770.03 L470.4,768.28 L471.4,766.52 L472.4,764.75 L473.4,762.98 L474.4,761.21 L475.4,759.43 L476.4,757.64 L477.4,755.85 L478.4,754.05 L479.4,752.25 L480.4,750.44 L481.4,748.63 L482.4,746.82 L483.4,745.00 L484.4,743.18 L485.4,741.35 L486.4,739.52 L487.4,737.69 L488.4,735.86 L489.4,734.02 L490.4,732.19 L491.4,730.35 L492.4,728.51 L493.4,726.66 L494.4,724.82 L495.4,722.97 L496.4,721.13 L497.4,719.28 L498.4,717.43 L499.4,715.59 L500.4,713.74 L501.4,711.90 L502.4,710.05 L503.4,708.21 L504.4,706.37 L505.4,704.53 L506.4,702.69 L507.4,700.85 L508.4,699.02 L509.4,697.19 L510.4,695.36 L511.4,693.54 L512.4,691.72 L513.4,689.90 L514.4,688.09 L515.4,686.28 L516.4,684.48 L517.4,682.68 L518.4,680.89 L519.4,679.10 L520.4,677.32 L521.4,675.54 L522.4,673.77 L523.4,672.01 L524.4,670.26 L525.4,668.51 L526.4,666.77 L527.4,665.04 L528.4,663.32 L529.4,661.60 L530.4,659.90 L531.4,658.20 L532.4,656.51 L533.4,654.84 L534.4,653.17 L535.4,651.51 L536.4,649.87 L537.4,648.23 L538.4,646.61 L539.4,645.00 L540.4,643.40 L541.4,641.81 L542.4,640.23 L543.4,638.67 L544.4,637.12 L545.4,635.58 L546.4,634.06 L547.4,632.55 L548.4,631.05 L549.4,629.57 L550.4,628.10 L551.4,626.65 L552.4,625.22 L553.4,623.80 L554.4,622.39 L555.4,621.00 L556.4,619.63 L557.4,618.27 L558.4,616.93 L559.4,615.61 L560.4,614.31 L561.4,613.02 L562.4,611.75 L563.4,610.50 L564.4,609.27 L565.4,608.05 L566.4,606.85 L567.4,605.68 L568.4,604.52 L569.4,603.38 L570.4,602.27 L571.4,601.17 L572.4,600.09 L573.4,599.03 L574.4,598.00 L575.4,596.98 L576.4,595.98 L577.4,595.01 L578.4,594.06 L579.4,593.13 L580.4,592.22 L581.4,591.33 L582.4,590.47 L583.4,589.62 L584.4,588.81 L585.4,588.01 L586.4,587.23 L587.4,586.48 L588.4,585.75 L589.4,585.05 L590.4,584.37 L591.4,583.71 L592.4,583.08 L593.4,582.47 L594.4,581.88 L595.4,581.32 L596.4,580.78 L597.4,580.27 L598.4,579.78 L599.4,579.32 L600.4,578.88 L601.4,578.46 L602.4,578.07 L603.4,577.71 L604.4,577.37 L605.4,577.05 L606.4,576.76 L607.4,576.50 L608.4,576.26 L609.4,576.05 L610.4,575.86 L611.4,575.69 L612.4,575.56 L613.4,575.44 L614.4,575.36 L615.4,575.30 L616.4,575.26 L617.4,575.25 L618.4,575.27 L619.4,575.31 L620.4,575.37 L621.4,575.46 L622.4,575.58 L623.4,575.72 L624.4,575.89 L625.4,576.09 L626.4,576.31 L627.4,576.55 L628.4,576.82 L629.4,577.11 L630.4,577.43 L631.4,577.78 L632.4,578.15 L633.4,578.54 L634.4,578.96 L635.4,579.41 L636.4,579.88 L637.4,580.37 L638.4,580.89 L639.4,581.43 L640.4,582.00 L641.4,582.59 L642.4,583.20 L643.4,583.84 L644.4,584.50 L645.4,585.19 L646.4,585.90 L647.4,586.63 L648.4,587.39 L649.4,588.17 L650.4,588.97 L651.4,589.79 L652.4,590.64 L653.4,591.51 L654.4,592.40 L655.4,593.31 L656.4,594.25 L657.4,595.20 L658.4,596.18 L659.4,597.18 L660.4,598.20 L661.4,599.24 L662.4,600.30 L663.4,601.39 L664.4,602.49 L665.4,603.61 L666.4,604.75 L667.4,605.91 L668.4,607.09 L669.4,608.29 L670.4,609.51 L671.4,610.75 L672.4,612.00 L673.4,613.27 L674.4,614.57 L675.4,615.87 L676.4,617.20 L677.4,618.54 L678.4,619.90 L679.4,621.28 L680.4,622.67 L681.4,624.08 L682.4,625.50 L683.4,626.94 L684.4,628.40 L685.4,629.87 L686.4,631.35 L687.4,632.85 L688.4,634.36 L689.4,635.89 L690.4,637.43 L691.4,638.98 L692.4,640.55 L693.4,642.12 L694.4,643.71 L695.4,645.32 L696.4,646.93 L697.4,648.56 L698.4,650.20 L699.4,651.84 L700.4,653.50 L701.4,655.17 L702.4,656.85 L703.4,658.54 L704.4,660.24 L705.4,661.95 L706.4,663.66 L707.4,665.39 L708.4,667.12 L709.4,668.86 L710.4,670.61 L711.4,672.36 L712.4,674.13 L713.4,675.90 L714.4,677.67 L715.4,679.46 L716.4,681.24 L717.4,683.04 L718.4,684.84 L719.4,686.64 L720.4,688.45 L721.4,690.26 L722.4,692.08 L723.4,693.90 L724.4,695.73 L725.4,697.55 L726.4,699.39 L727.4,701.22 L728.4,703.06 L729.4,704.89 L730.4,706.74 L731.4,708.58 L732.4,710.42 L733.4,712.27 L734.4,714.11 L735.4,715.96 L736.4,717.80 L737.4,719.65 L738.4,721.50 L739.4,723.34 L740.4,725.19 L741.4,727.03 L742.4,728.87 L743.4,730.71 L744.4,732.55 L745.4,734.39 L746.4,736.23 L747.4,738.06 L748.4,739.89 L749.4,741.72 L750.4,743.54 L751.4,745.36 L752.4,747.18 L753.4,748.99 L754.4,750.80 L755.4,752.61 L756.4,754.41 L757.4,756.20 L758.4,758.00 L759.4,759.78 L760.4,761.56 L761.4,763.34 L762.4,765.11 L763.4,766.87 L764.4,768.63 L765.4,770.38 L766.4,772.13 L767.4,773.87 L768.4,775.60 L769.4,777.32 L770.4,779.04 L771.4,780.75 L772.4,782.45 L773.4,784.15 L774.4,785.84 L775.4,787.52 L776.4,789.19 L777.4,790.85 L778.4,792.51 L779.4,794.16 L780.4,795.80 L781.4,797.43 L782.4,799.05 L783.4,800.66 L784.4,802.26 L785.4,803.85 L786.4,805.44 L787.4,807.01 L788.4,808.58 L789.4,810.13 L790.4,811.68 L791.4,813.22 L792.4,814.74 L793.4,816.26 L794.4,817.76 L795.4,819.26 L796.4,820.75 L797.4,822.22 L798.4,823.69 L799.4,825.14 L800.4,826.58 L801.4,828.02 L802.4,829.44 L803.4,830.85 L804.4,832.25 L805.4,833.64 L806.4,835.02 L807.4,836.39 L808.4,837.74 L809.4,839.09 L810.4,840.42 L811.4,841.75 L812.4,843.06 L813.4,844.36 L814.4,845.65 L815.4,846.93 L816.4,848.19 L817.4,849.45 L818.4,850.69 L819.4,851.93 L820.4,853.15 L821.4,854.36 L822.4,855.56 L823.4,856.75 L824.4,857.92 L825.4,859.09 L826.4,860.24 L827.4,861.38 L828.4,862.51 L829.4,863.63 L830.4,864.74 L831.4,865.84 L832.4,866.92 L833.4,867.99 L834.4,869.06 L835.4,870.11 L836.4,871.15 L837.4,872.18 L838.4,873.19 L839.4,874.20 L840.4,875.20 L841.4,876.18 L842.4,877.15 L843.4,878.12 L844.4,879.07 L845.4,880.01 L846.4,880.94 L847.4,881.86 L848.4,882.76 L849.4,883.66 L850.4,884.55 L851.4,885.42 L852.4,886.29 L853.4,887.14 L854.4,887.99 L855.4,888.82 L856.4,889.64 L857.4,890.46 L858.4,891.26 L859.4,892.05 L860.4,892.83 L861.4,893.60 L862.4,894.37 L863.4,895.12 L864.4,895.86 L865.4,896.59 L866.4,897.32 L867.4,898.03 L868.4,898.73 L869.4,899.43 L870.4,900.11 L871.4,900.79 L872.4,901.45 L873.4,902.11 L874.4,902.75 L875.4,903.39 L876.4,904.02 L877.4,904.64 L878.4,905.25 L879.4,905.85 L880.4,906.45 L881.4,907.03 L882.4,907.61 L883.4,908.18 L884.4,908.74 L885.4,909.29 L886.4,909.83 L887.4,910.36 L888.4,910.89 L889.4,911.41 L890.4,911.92 L891.4,912.42 L892.4,912.92 L893.4,913.40 L894.4,913.88 L895.4,914.36 L896.4,914.82 L897.4,915.28 L898.4,915.73 L899.4,916.17 L900.4,916.61 L901.4,917.03 L902.4,917.45 L903.4,917.87 L904.4,918.28 L905.4,918.68 L906.4,919.07 L907.4,919.46 L908.4,919.84 L909.4,920.22 L910.4,920.58 L911.4,920.95 L912.4,921.30 L913.4,921.65 L914.4,921.99 L915.4,922.33 L916.4,922.66 L917.4,922.99 L918.4,923.31 L919.4,923.62 L920.4,923.93 L921.4,924.24 L922.4,924.53 L923.4,924.83 L924.4,925.11 L925.4,925.40 L926.4,925.67 L927.4,925.95 L928.4,926.21 L929.4,926.47 L930.4,926.73 L931.4,926.98 L932.4,927.23 L933.4,927.47 L934.4,927.71 L935.4,927.95 L936.4,928.18 L937.4,928.40 L938.4,928.62 L939.4,928.84 L940.4,929.05 L941.4,929.26 L942.4,929.46 L943.4,929.66 L944.4,929.86 L945.4,930.05 L946.4,930.24 L947.4,930.42 L948.4,930.60 L949.4,930.78 L950.4,930.96 L951.4,931.13 L952.4,931.29 L953.4,931.46 L954.4,931.62 L955.4,931.77 L956.4,931.93 L957.4,932.08 L958.4,932.22 L959.4,932.37 L960.4,932.51 L961.4,932.65 L962.4,932.78 L963.4,932.92 L964.4,933.04 L965.4,933.17 L966.4,933.30 L967.4,933.42 L968.4,933.54 L969.4,933.65 L970.4,933.77 L971.4,933.88 L972.4,933.99 L973.4,934.09 L974.4,934.20 L975.4,934.30 L976.4,934.40"/>
<path d="M28.4,938.30 L29.4,938.30 L30.4,938.30 L31.4,938.30 L32.4,938.30 L33.4,938.30 L34.4,938.30 L35.4,938.30 L36.4,938.30 L37.4,938.30 L38.4,938.30 L39.4,938.30 L40.4,938.30 L41.4,938.30 L42.4,938.30 L43.4,938.30 L44.4,938.30 L45.4,938.30 L46.4,938.30 L47.4,938.30 L48.4,938.30 L49.4,938.30 L50.4,938.30 L51.4,938.30 L52.4,938.30 L53.4,938.30 L54.4,938.30 L55.4,938.30 L56.4,938.30 L57.4,938.30 L58.4,938.30 L59.4,938.30 L60.4,938.30 L61.4,938.30 L62.4,938.30 L63.4,938.30 L64.4,938.30 L65.4,938.30 L66.4,938.30 L67.4,938.30 L68.4,938.30 L69.4,938.30 L70.4,938.30 L71.4,938.30 L72.4,938.30 L73.4,938.30 L74.4,938.30 L75.4,938.30 L76.4,938.30 L77.4,938.30 L78.4,938.30 L79.4,938.30 L80.4,938.30 L81.4,938.30 L82.4,938.30 L83.4,938.30 L84.4,938.30 L85.4,938.30 L86.4,938.30 L87.4,938.30 L88.4,938.30 L89.4,938.30 L90.4,938.30 L91.4,938.30 L92.4,938.30 L93.4,938.30 L94.4,938.30 L95.4,938.30 L96.4,938.30 L97.4,938.30 L98.4,938.30 L99.4,938.30 L100.4,938.30 L101.4,938.30 L102.4,938.30 L103.4,938.30 L104.4,938.30 L105.4,938.30 L106.4,938.30 L107.4,938.30 L108.4,938.30 L109.4,938.30 L110.4,938.30 L111.4,938.30 L112.4,938.30 L113.4,938.30 L114.4,938.30 L115.4,938.30 L116.4,938.30 L117.4,938.30 L118.4,938.30 L119.4,938.30 L120.4,938.30 L121.4,938.30 L122.4,938.30 L123.4,938.30 L124.4,938.30 L125.4,938.30 L126.4,938.30 L127.4,938.30 L128.4,938.30 L129.4,938.30 L130.4,938.30 L131.4,938.30 L132.4,938.30 L133.4,938.30 L134.4,938.30 L135.4,938.30 L136.4,938.30 L137.4,938.30 L138.4,938.30 L139.4,938.30 L140.4,938.30 L141.4,938.30 L142.4,938.30 L143.4,938.30 L144.4,938.30 L145.4,938.30 L146.4,938.30 L147.4,938.30 L148.4,938.30 L149.4,938.30 L150.4,938.30 L151.4,938.30 L152.4,938.30 L153.4,938.30 L154.4,938.30 L155.4,938.30 L156.4,938.30 L157.4,938.30 L158.4,938.30 L159.4,938.30 L160.4,938.30 L161.4,938.30 L162.4,938.30 L163.4,938.30 L164.4,938.30 L165.4,938.30 L166.4,938.30 L167.4,938.30 L168.4,938.30 L169.4,938.30 L170.4,938.30 L171.4,938.30 L172.4,938.30 L173.4,938.30 L174.4,938.30 L175.4,938.30 L176.4,938.30 L177.4,938.30 L178.4,938.30 L179.4,938.30 L180.4,938.30 L181.4,938.30 L182.4,938.30 L183.4,938.30 L184.4,938.30 L185.4,938.30 L186.4,938.30 L187.4,938.30 L188.4,938.30 L189.4,938.30 L190.4,938.30 L191.4,938.30 L192.4,938.30 L193.4,938.30 L194.4,938.30 L195.4,938.30 L196.4,938.30 L197.4,938.30 L198.4,938.30 L199.4,938.30 L200.4,938.30 L201.4,938.30 L202.4,938.30 L203.4,938.30 L204.4,938.30 L205.4,938.30 L206.4,938.30 L207.4,938.30 L208.4,938.30 L209.4,938.30 L210.4,938.30 L211.4,938.30 L212.4,938.30 L213.4,938.30 L214.4,938.30 L215.4,938.30 L216.4,938.30 L217.4,938.30 L218.4,938.30 L219.4,938.30 L220.4,938.30 L221.4,938.30 L222.4,938.30 L223.4,938.30 L224.4,938.30 L225.4,938.30 L226.4,938.30 L227.4,938.30 L228.4,938.30 L229.4,938.30 L230.4,938.30 L231.4,938.30 L232.4,938.30 L233.4,938.30 L234.4,938.30 L235.4,938.30 L236.4,938.30 L237.4,938.30 L238.4,938.30 L239.4,938.30 L240.4,938.30 L241.4,938.30 L242.4,938.30 L243.4,938.30 L244.4,938.30 L245.4,938.30 L246.4,938.30 L247.4,938.30 L248.4,938.30 L249.4,938.30 L250.4,938.30 L251.4,938.30 L252.4,938.30 L253.4,938.30 L254.4,938.30 L255.4,938.30 L256.4,938.30 L257.4,938.30 L258.4,938.30 L259.4,938.30 L260.4,938.30 L261.4,938.30 L262.4,938.30 L263.4,938.30 L264.4,938.30 L265.4,938.30 L266.4,938.30 L267.4,938.30 L268.4,938.30 L269.4,938.30 L270.4,938.30 L271.4,938.30 L272.4,938.30 L273.4,938.30 L274.4,938.30 L275.4,938.30 L276.4,938.30 L277.4,938.30 L278.4,938.30 L279.4,938.30 L280.4,938.30 L281.4,938.30 L282.4,938.30 L283.4,938.30 L284.4,938.30 L285.4,938.30 L286.4,938.30 L287.4,938.30 L288.4,938.30 L289.4,938.30 L290.4,938.30 L291.4,938.30 L292.4,938.30 L293.4,938.30 L294.4,938.30 L295.4,938.30 L296.4,938.30 L297.4,938.30 L298.4,938.30 L299.4,938.30 L300.4,938.30 L301.4,938.30 L302.4,938.30 L303.4,938.30 L304.4,938.30 L305.4,938.30 L306.4,938.30 L307.4,938.30 L308.4,938.30 L309.4,938.30 L310.4,938.30 L311.4,938.30 L312.4,938.30 L313.4,938.30 L314.4,938.30 L315.4,938.30 L316.4,938.30 L317.4,938.30 L318.4,938.30 L319.4,938.30 L320.4,938.30 L321.4,938.30 L322.4,938.30 L323.4,938.30 L324.4,938.30 L325.4,938.30 L326.4,938.30 L327.4,938.30 L328.4,938.30 L329.4,938.30 L330.4,938.30 L331.4,938.30 L332.4,938.30 L333.4,938.30 L334.4,938.30 L335.4,938.30 L336.4,938.30 L337.4,938.30 L338.4,938.30 L339.4,938.30 L340.4,938.30 L341.4,938.30 L342.4,938.30 L343.4,938.30 L344.4,938.30 L345.4,938.30 L346.4,938.30 L347.4,938.30 L348.4,938.30 L349.4,938.30 L350.4,938.30 L351.4,938.30 L352.4,938.30 L353.4,938.30 L354.4,938.30 L355.4,938.30 L356.4,938.30 L357.4,938.30 L358.4,938.30 L359.4,938.30 L360.4,938.30 L361.4,938.30 L362.4,938.30 L363.4,938.30 L364.4,938.30 L365.4,938.30 L366.4,938.30 L367.4,938.30 L368.4,938.30 L369.4,938.30 L370.4,938.30 L371.4,938.30 L372.4,938.30 L373.4,938.30 L374.4,938.30 L375.4,938.30 L376.4,938.30 L377.4,938.30 L378.4,938.30 L379.4,938.30 L380.4,938.30 L381.4,938.30 L382.4,938.30 L383.4,938.30 L384.4,938.30 L385.4,938.30 L386.4,938.30 L387.4,938.30 L388.4,938.30 L389.4,938.30 L390.4,938.30 L391.4,938.30 L392.4,938.30 L393.4,938.30 L394.4,938.30 L395.4,938.30 L396.4,938.30 L397.4,938.30 L398.4,938.30 L399.4,938.30 L400.4,938.30 L401.4,938.30 L402.4,938.30 L403.4,938.30 L404.4,938.30 L405.4,938.30 L406.4,938.30 L407.4,938.30 L408.4,938.30 L409.4,938.30 L410.4,938.30 L411.4,938.30 L412.4,938.30 L413.4,938.30 L414.4,938.30 L415.4,938.30 L416.4,938.30 L417.4,938.30 L418.4,938.30 L419.4,938.30 L420.4,938.30 L421.4,938.30 L422.4,938.30 L423.4,938.30 L424.4,938.30 L425.4,938.30 L426.4,938.30 L427.4,938.30 L428.4,938.30 L429.4,938.30 L430.4,938.30 L431.4,938.30 L432.4,938.30 L433.4,938.30 L434.4,938.30 L435.4,938.30 L436.4,938.30 L437.4,938.30 L438.4,938.30 L439.4,938.30 L440.4,938.30 L441.4,938.30 L442.4,938.30 L443.4,938.30 L444.4,938.30 L445.4,938.30 L446.4,938.30 L447.4,938.30 L448.4,938.30 L449.4,938.30 L450.4,938.30 L451.4,938.30 L452.4,938.30 L453.4,938.30 L454.4,938.30 L455.4,938.30 L456.4,938.30 L457.4,938.30 L458.4,938.30 L459.4,938.30 L460.4,938.30 L461.4,938.30 L462.4,938.30 L463.4,938.30 L464.4,938.30 L465.4,938.30 L466.4,938.30 L467.4,938.30 L468.4,938.30 L469.4,938.30 L470.4,938.30 L471.4,938.30 L472.4,938.30 L473.4,938.30 L474.4,938.30 L475.4,938.30 L476.4,938.30 L477.4,938.30 L478.4,938.30 L479.4,938.30 L480.4,938.30 L481.4,938.30 L482.4,938.30 L483.4,938.30 L484.4,938.30 L485.4,938.30 L486.4,938.30 L487.4,938.30 L488.4,938.30 L489.4,938.30 L490.4,938.30 L491.4,938.30 L492.4,938.30 L493.4,938.30 L494.4,938.30 L495.4,938.30 L496.4,938.30 L497.4,938.30 L498.4,938.30 L499.4,938.30 L500.4,938.30 L501.4,938.30 L502.4,938.30 L503.4,938.30 L504.4,938.30 L505.4,938.30 L506.4,938.30 L507.4,938.30 L508.4,938.30 L509.4,938.30 L510.4,938.30 L511.4,938.30 L512.4,938.30 L513.4,938.30 L514.4,938.30 L515.4,938.30 L516.4,938.30 L517.4,938.30 L518.4,938.30 L519.4,938.30 L520.4,938.30 L521.4,938.30 L522.4,938.30 L523.4,938.30 L524.4,938.30 L525.4,938.30 L526.4,938.30 L527.4,938.30 L528.4,938.30 L529.4,938.30 L530.4,938.30 L531.4,938.30 L532.4,938.30 L533.4,938.30 L534.4,938.30 L535.4,938.30 L536.4,938.30 L537.4,938.30 L538.4,938.30 L539.4,938.30 L540.4,938.30 L541.4,938.30 L542.4,938.30 L543.4,938.30 L544.4,938.30 L545.4,938.30 L546.4,938.30 L547.4,938.30 L548.4,938.30 L549.4,938.30 L550.4,938.30 L551.4,938.30 L552.4,938.30 L553.4,938.30 L554.4,938.30 L555.4,938.30 L556.4,938.30 L557.4,938.30 L558.4,938.30 L559.4,938.30 L560.4,938.30 L561.4,938.30 L562.4,938.30 L563.4,938.30 L564.4,938.30 L565.4,938.30 L566.4,938.30 L567.4,938.30 L568.4,938.30 L569.4,938.30 L570.4,938.30 L571.4,938.30 L572.4,938.30 L573.4,938.30 L574.4,938.30 L575.4,938.30 L576.4,938.30 L577.4,938.30 L578.4,938.30 L579.4,938.30 L580.4,938.30 L581.4,938.30 L582.4,938.30 L583.4,938.30 L584.4,938.30 L585.4,938.30 L586.4,938.30 L587.4,938.30 L588.4,938.30 L589.4,938.30 L590.4,938.30 L591.4,938.30 L592.4,938.30 L593.4,938.30 L594.4,938.30 L595.4,938.30 L596.4,938.30 L597.4,938.30 L598.4,938.30 L599.4,938.30 L600.4,938.30 L601.4,938.30 L602.4,938.30 L603.4,938.30 L604.4,938.30 L605.4,938.30 L606.4,938.30 L607.4,938.30 L608.4,938.30 L609.4,938.30 L610.4,938.30 L611.4,938.30 L612.4,938.30 L613.4,938.30 L614.4,938.30 L615.4,938.30 L616.4,938.30 L617.4,938.30 L618.4,938.30 L619.4,938.30 L620.4,938.30 L621.4,938.30 L622.4,938.30 L623.4,938.30 L624.4,938.30 L625.4,938.30 L626.4,938.30 L627.4,938.30 L628.4,938.30 L629.4,938.30 L630.4,938.30 L631.4,938.30 L632.4,938.30 L633.4,938.30 L634.4,938.30 L635.4,938.30 L636.4,938.30 L637.4,938.30 L638.4,938.30 L639.4,938.30 L640.4,938.30 L641.4,938.30 L642.4,938.30 L643.4,938.30 L644.4,938.30 L645.4,938.30 L646.4,938.30 L647.4,938.30 L648.4,938.30 L649.4,938.30 L650.4,938.30 L651.4,938.30 L652.4,938.30 L653.4,938.30 L654.4,938.30 L655.4,938.30 L656.4,938.30 L657.4,938.30 L658.4,938.30 L659.4,938.30 L660.4,938.30 L661.4,938.30 L662.4,938.30 L663.4,938.30 L664.4,938.30 L665.4,938.29 L666.4,938.29 L667.4,938.29 L668.4,938.29 L669.4,938.29 L670.4,938.29 L671.4,938.29 L672.4,938.29 L673.4,938.29 L674.4,938.29 L675.4,938.28 L676.4,938.28 L677.4,938.28 L678.4,938.28 L679.4,938.28 L680.4,938.27 L681.4,938.27 L682.4,938.27 L683.4,938.26 L684.4,938.26 L685.4,938.26 L686.4,938.25 L687.4,938.25 L688.4,938.24 L689.4,938.24 L690.4,938.23 L691.4,938.22 L692.4,938.21 L693.4,938.21 L694.4,938.20 L695.4,938.19 L696.4,938.18 L697.4,938.16 L698.4,938.15 L699.4,938.14 L700.4,938.12 L701.4,938.11 L702.4,938.09 L703.4,938.07 L704.4,938.05 L705.4,938.02 L706.4,938.00 L707.4,937.97 L708.4,937.94 L709.4,937.91 L710.4,937.88 L711.4,937.84 L712.4,937.80 L713.4,937.76 L714.4,937.72 L715.4,937.67 L716.4,937.62 L717.4,937.56 L718.4,937.50 L719.4,937.43 L720.4,937.37 L721.4,937.29 L722.4,937.21 L723.4,937.13 L724.4,937.04 L725.4,936.94 L726.4,936.83 L727.4,936.72 L728.4,936.61 L729.4,936.48 L730.4,936.35 L731.4,936.20 L732.4,936.05 L733.4,935.89 L734.4,935.72 L735.4,935.54 L736.4,935.35 L737.4,935.15 L738.4,934.93 L739.4,934.70 L740.4,934.46 L741.4,934.21 L742.4,933.94 L743.4,933.65 L744.4,933.35 L745.4,933.04 L746.4,932.71 L747.4,932.36 L748.4,931.99 L749.4,931.61 L750.4,931.20 L751.4,930.78 L752.4,930.33 L753.4,929.86 L754.4,929.37 L755.4,928.86 L756.4,928.33 L757.4,927.77 L758.4,927.19 L759.4,926.58 L760.4,925.95 L761.4,925.29 L762.4,924.60 L763.4,923.89 L764.4,923.15 L765.4,922.38 L766.4,921.58 L767.4,920.75 L768.4,919.89 L769.4,919.00 L770.4,918.08 L771.4,917.13 L772.4,916.15 L773.4,915.14 L774.4,914.09 L775.4,913.02 L776.4,911.91 L777.4,910.77 L778.4,909.60 L779.4,908.40 L780.4,907.17 L781.4,905.90 L782.4,904.61 L783.4,903.28 L784.4,901.93 L785.4,900.54 L786.4,899.13 L787.4,897.69 L788.4,896.22 L789.4,894.72 L790.4,893.20 L791.4,891.66 L792.4,890.09 L793.4,888.49 L794.4,886.88 L795.4,885.25 L796.4,883.60 L797.4,881.93 L798.4,880.24 L799.4,878.55 L800.4,876.84 L801.4,875.12 L802.4,873.39 L803.4,871.65 L804.4,869.92 L805.4,868.17 L806.4,866.43 L807.4,864.69 L808.4,862.95 L809.4,861.22 L810.4,859.50 L811.4,857.79 L812.4,856.09 L813.4,854.41 L814.4,852.74 L815.4,851.09 L816.4,849.47 L817.4,847.87 L818.4,846.30 L819.4,844.76 L820.4,843.25 L821.4,841.78 L822.4,840.34 L823.4,838.95 L824.4,837.59 L825.4,836.28 L826.4,835.01 L827.4,833.79 L828.4,832.63 L829.4,831.51 L830.4,830.45 L831.4,829.44 L832.4,828.50 L833.4,827.61 L834.4,826.78 L835.4,826.01 L836.4,825.31 L837.4,824.68 L838.4,824.11 L839.4,823.60 L840.4,823.17 L841.4,822.80 L842.4,822.50 L843.4,822.28 L844.4,822.12 L845.4,822.04 L846.4,822.02 L847.4,822.08 L848.4,822.21 L849.4,822.41 L850.4,822.67 L851.4,823.01 L852.4,823.42 L853.4,823.90 L854.4,824.44 L855.4,825.05 L856.4,825.73 L857.4,826.47 L858.4,827.27 L859.4,828.13 L860.4,829.06 L861.4,830.04 L862.4,831.08 L863.4,832.17 L864.4,833.32 L865.4,834.52 L866.4,835.77 L867.4,837.06 L868.4,838.40 L869.4,839.78 L870.4,841.20 L871.4,842.66 L872.4,844.15 L873.4,845.68 L874.4,847.24 L875.4,848.83 L876.4,850.44 L877.4,852.08 L878.4,853.74 L879.4,855.41 L880.4,857.11 L881.4,858.81 L882.4,860.53 L883.4,862.26 L884.4,863.99 L885.4,865.73 L886.4,867.48 L887.4,869.22 L888.4,870.96 L889.4,872.70 L890.4,874.43 L891.4,876.15 L892.4,877.87 L893.4,879.57 L894.4,881.26 L895.4,882.93 L896.4,884.59 L897.4,886.23 L898.4,887.85 L899.4,889.45 L900.4,891.03 L901.4,892.59 L902.4,894.12 L903.4,895.62 L904.4,897.10 L905.4,898.56 L906.4,899.98 L907.4,901.38 L908.4,902.74 L909.4,904.08 L910.4,905.39 L911.4,906.67 L912.4,907.91 L913.4,909.13 L914.4,910.31 L915.4,911.46 L916.4,912.58 L917.4,913.67 L918.4,914.72 L919.4,915.75 L920.4,916.74 L921.4,917.71 L922.4,918.64 L923.4,919.54 L924.4,920.41 L925.4,921.25 L926.4,922.06 L927.4,922.84 L928.4,923.59 L929.4,924.32 L930.4,925.02 L931.4,925.69 L932.4,926.33 L933.4,926.95 L934.4,927.54 L935.4,928.11 L936.4,928.65 L937.4,929.17 L938.4,929.67 L939.4,930.15 L940.4,930.60 L941.4,931.03 L942.4,931.45 L943.4,931.84 L944.4,932.21 L945.4,932.57 L946.4,932.91 L947.4,933.23 L948.4,933.54 L949.4,933.83 L950.4,934.10 L951.4,934.36 L952.4,934.61 L953.4,934.84 L954.4,935.06 L955.4,935.27 L956.4,935.47 L957.4,935.65 L958.4,935.83 L959.4,935.99 L960.4,936.15 L961.4,936.29 L962.4,936.43 L963.4,936.56 L964.4,936.68 L965.4,936.79 L966.4,936.90 L967.4,937.00 L968.4,937.09 L969.4,937.18 L970.4,937.26 L971.4,937.34 L972.4,937.41 L973.4,937.47 L974.4,937.54 L975.4,937.59 L976.4,937.65"/>
<path d="M28.4,878.0 C28.7,877.1 29.5,874.1 30.0,872.6 C30.5,871.1 31.0,870.3 31.6,869.2 C32.2,868.1 32.8,867.0 33.4,865.9 C34.0,864.8 34.9,863.3 35.5,862.4 C36.1,861.5 36.5,861.0 37.0,860.5 C37.5,860.0 37.8,859.6 38.4,859.7 C39.0,859.8 40.0,860.7 40.8,861.3 C41.6,861.9 42.3,863.9 43.1,863.3 C43.9,862.6 44.6,860.3 45.5,857.4 C46.4,854.5 47.4,848.9 48.5,845.8 C49.6,842.7 51.0,840.8 52.4,838.9 C53.8,837.0 55.7,835.2 57.0,834.3 C58.3,833.4 59.5,834.8 60.4,833.5 C61.3,832.2 61.7,829.6 62.4,826.5 C63.1,823.4 63.9,817.8 64.8,815.0 C65.7,812.2 66.9,810.9 67.8,809.9 C68.7,808.9 69.3,810.9 70.2,808.8 C71.1,806.7 72.1,800.7 73.2,797.2 C74.3,793.7 75.7,791.1 77.1,788.0 C78.5,784.9 80.2,781.5 81.7,778.7 C83.2,775.9 85.1,774.4 86.4,771.0 C87.7,767.6 88.4,763.6 89.4,758.6 C90.4,753.6 91.4,744.2 92.2,740.9 C93.0,737.6 93.2,738.3 94.1,738.6 C95.0,738.9 96.6,742.9 97.5,742.9 C98.4,742.9 98.8,741.9 99.5,738.6 C100.2,735.3 100.8,728.2 101.8,723.1 C102.8,718.0 104.3,711.8 105.6,708.1 C106.9,704.4 108.3,704.4 109.7,701.1 C111.1,697.9 112.6,692.5 113.9,688.6 C115.2,684.7 116.4,680.9 117.4,677.5 C118.4,674.1 119.2,670.2 120.1,668.5 C121.0,666.8 122.0,667.7 122.9,667.1 C123.8,666.5 124.9,667.0 125.7,665.0 C126.5,663.0 127.1,659.0 127.8,655.3 C128.5,651.6 129.1,646.3 129.9,642.8 C130.7,639.3 131.4,636.1 132.6,634.4 C133.8,632.7 135.6,633.7 136.8,632.8 C138.0,631.9 138.8,630.9 139.6,628.9 C140.4,626.9 140.7,624.1 141.7,620.6 C142.7,617.1 144.4,611.8 145.8,608.1 C147.2,604.4 148.7,600.6 150.0,598.3 C151.3,596.0 152.4,596.3 153.5,594.2 C154.6,592.1 155.0,589.3 156.3,585.8 C157.6,582.3 159.6,576.6 161.1,573.3 C162.6,569.9 163.7,568.2 165.3,565.7 C166.9,563.2 169.5,560.3 170.8,558.1 C172.1,555.9 172.1,555.4 172.9,552.5 C173.7,549.6 174.7,543.0 175.6,540.7 C176.5,538.4 177.5,539.6 178.6,538.9 C179.7,538.2 181.4,537.7 182.3,536.4 C183.2,535.1 183.6,533.3 184.2,530.9 C184.8,528.5 185.0,524.7 186.0,522.2 C187.0,519.7 188.8,517.8 190.4,516.0 C192.0,514.2 194.0,513.2 195.3,511.7 C196.6,510.2 197.5,508.9 198.4,506.8 C199.3,504.7 199.9,501.4 200.9,498.8 C201.9,496.2 203.4,492.5 204.6,491.4 C205.8,490.3 207.2,492.7 208.3,492.0 C209.4,491.3 210.5,489.5 211.4,487.0 C212.3,484.5 212.9,479.7 213.8,477.2 C214.7,474.7 215.8,473.6 216.9,472.2 C218.0,470.8 219.4,469.9 220.6,468.5 C221.8,467.1 223.1,465.2 224.3,463.6 C225.5,462.0 227.0,460.4 228.0,458.6 C229.0,456.9 229.6,455.2 230.5,453.1 C231.4,451.1 232.4,448.1 233.6,446.3 C234.8,444.6 236.8,443.9 237.9,442.6 C239.0,441.3 239.3,440.2 240.4,438.3 C241.5,436.4 243.5,432.5 244.7,430.9 C245.9,429.2 246.6,429.8 247.8,428.4 C249.0,427.0 250.9,425.0 252.1,422.8 C253.3,420.6 253.9,418.0 255.2,415.4 C256.5,412.8 258.6,409.7 260.1,407.4 C261.6,405.1 262.7,403.2 264.0,401.6 C265.3,400.0 266.6,399.2 268.0,397.5 C269.4,395.8 270.9,393.7 272.1,391.5 C273.3,389.3 273.9,386.9 275.1,384.5 C276.4,382.1 278.1,379.1 279.6,376.9 C281.1,374.7 282.9,373.2 284.1,371.4 C285.4,369.6 286.3,367.9 287.1,365.9 C287.9,363.9 288.2,361.4 289.1,359.3 C290.0,357.2 291.0,355.1 292.2,353.3 C293.4,351.5 294.9,350.5 296.2,348.3 C297.5,346.1 298.9,342.6 300.2,340.3 C301.5,338.0 303.0,336.4 304.2,334.7 C305.4,333.0 306.0,331.9 307.2,330.2 C308.4,328.4 309.9,326.0 311.3,324.2 C312.7,322.4 313.8,320.8 315.3,319.1 C316.8,317.4 318.6,315.4 320.3,314.1 C322.0,312.8 323.6,311.9 325.3,311.1 C327.0,310.4 328.5,310.4 330.4,309.6 C332.2,308.9 334.4,307.4 336.4,306.6 C338.4,305.9 340.4,306.0 342.4,305.1 C344.4,304.2 346.5,302.0 348.4,301.1 C350.2,300.2 351.8,300.4 353.5,299.5 C355.2,298.6 356.3,297.2 358.5,296.0 C360.7,294.8 363.9,292.8 366.5,292.0 C369.1,291.2 371.8,291.5 373.8,291.1 C375.9,290.7 376.9,289.8 378.8,289.8 C380.7,289.8 382.9,290.7 385.1,291.1 C387.3,291.5 389.5,291.4 392.0,292.2 C394.5,293.0 398.2,295.0 400.2,296.1 C402.2,297.2 402.4,297.7 403.9,298.8 C405.3,299.9 407.2,301.8 408.9,302.9 C410.6,303.9 412.1,304.2 414.0,305.1 C415.9,306.0 418.4,307.2 420.3,308.3 C422.2,309.4 423.7,310.9 425.3,312.0 C426.9,313.1 428.0,314.2 429.7,314.9 C431.4,315.6 433.5,315.5 435.3,316.2 C437.1,316.9 438.5,317.6 440.4,318.9 C442.3,320.2 444.7,322.8 446.6,324.0 C448.5,325.2 449.8,325.1 451.7,326.2 C453.6,327.2 456.0,328.9 457.9,330.3 C459.8,331.7 461.2,333.0 463.0,334.6 C464.8,336.2 466.7,338.5 468.6,339.7 C470.5,340.9 472.4,340.6 474.3,341.8 C476.2,343.1 478.1,345.9 479.9,347.2 C481.7,348.4 483.2,348.2 485.0,349.3 C486.8,350.4 488.7,352.1 490.6,353.5 C492.5,354.9 494.3,356.0 496.3,357.6 C498.3,359.2 499.9,361.4 502.6,363.2 C505.3,365.0 509.5,367.1 512.6,368.6 C515.7,370.1 519.1,371.6 521.4,372.4 C523.7,373.2 524.5,372.9 526.4,373.4 C528.3,373.9 530.8,375.1 532.7,375.6 C534.6,376.1 535.6,376.0 537.7,376.2 C539.8,376.4 543.2,376.8 545.3,376.7 C547.4,376.6 548.5,376.2 550.3,375.8 C552.1,375.4 553.8,374.1 556.0,374.2 C558.2,374.3 561.3,376.1 563.5,376.2 C565.7,376.2 566.9,374.9 569.1,374.5 C571.3,374.1 574.4,373.8 576.7,373.7 C579.0,373.6 580.7,374.7 583.0,374.2 C585.3,373.7 588.4,371.2 590.5,370.5 C592.6,369.8 593.4,370.6 595.5,370.2 C597.6,369.8 600.5,368.6 603.1,367.9 C605.7,367.2 608.9,365.9 611.2,365.8 C613.5,365.7 614.9,366.6 616.9,367.4 C618.9,368.2 621.3,369.3 623.2,370.4 C625.1,371.5 626.7,372.3 628.2,373.9 C629.7,375.5 630.5,377.8 632.0,380.2 C633.5,382.6 635.1,385.8 636.9,388.3 C638.6,390.8 640.9,392.9 642.5,395.3 C644.1,397.7 645.2,400.2 646.7,402.9 C648.2,405.6 649.6,408.5 651.5,411.3 C653.4,414.1 655.8,417.0 657.8,419.6 C659.8,422.2 661.6,424.8 663.3,427.2 C665.0,429.6 666.4,432.0 668.2,434.2 C670.1,436.4 672.4,437.9 674.4,440.4 C676.4,442.9 677.9,446.4 680.0,449.4 C682.1,452.4 685.0,455.9 686.9,458.5 C688.8,461.1 689.5,462.4 691.1,464.7 C692.7,467.0 694.9,469.7 696.7,472.4 C698.6,475.1 700.4,477.9 702.2,480.7 C704.1,483.5 705.9,486.3 707.8,489.0 C709.6,491.7 711.4,493.8 713.3,496.7 C715.1,499.6 716.8,503.0 718.9,506.4 C721.0,509.8 723.7,513.7 725.8,516.8 C727.9,519.9 729.8,522.5 731.4,525.1 C733.0,527.7 733.8,529.4 735.6,532.1 C737.5,534.8 740.4,538.2 742.5,541.1 C744.6,544.0 746.0,546.5 748.1,549.4 C750.2,552.3 753.0,555.7 754.9,558.5 C756.8,561.3 757.9,563.8 759.8,566.1 C761.7,568.4 764.4,570.3 766.3,572.1 C768.2,573.9 769.4,575.7 771.2,577.0 C773.0,578.3 775.3,579.1 777.2,580.1 C779.1,581.1 780.6,582.5 782.7,583.3 C784.8,584.1 787.5,584.9 789.7,584.9 C791.9,584.9 793.6,584.0 795.7,583.0 C797.8,582.0 800.1,580.8 802.3,579.2 C804.5,577.6 806.4,575.1 808.8,573.2 C811.1,571.3 814.2,569.4 816.4,567.8 C818.6,566.2 820.2,564.5 821.9,563.4 C823.6,562.2 825.0,561.2 826.8,560.9 C828.6,560.6 830.8,561.5 832.7,561.6 C834.6,561.7 836.6,561.2 838.2,561.6 C839.8,562.0 840.5,562.3 842.5,564.0 C844.5,565.7 848.0,569.2 850.2,571.6 C852.4,574.0 853.8,575.6 855.6,578.1 C857.4,580.6 859.4,584.3 861.0,586.8 C862.6,589.3 863.9,590.6 865.4,593.3 C866.9,596.0 868.9,600.0 870.3,603.0 C871.7,606.0 872.5,608.4 874.0,611.6 C875.5,614.8 877.8,619.0 879.4,622.4 C881.0,625.8 882.3,628.9 883.8,632.1 C885.2,635.3 886.7,638.7 888.1,641.8 C889.5,644.9 890.9,647.6 892.4,650.5 C893.9,653.4 895.5,655.9 897.3,659.1 C899.1,662.3 901.3,666.6 903.2,669.9 C905.1,673.1 906.8,676.0 908.6,678.6 C910.4,681.2 912.2,683.5 914.0,685.6 C915.8,687.8 917.6,689.6 919.4,691.5 C921.2,693.4 923.0,695.3 924.8,696.9 C926.6,698.5 928.4,699.8 930.2,701.3 C932.0,702.8 933.6,704.6 935.6,706.1 C937.6,707.6 939.8,709.0 942.1,710.4 C944.5,711.8 947.2,713.0 949.7,714.2 C952.2,715.4 954.9,716.7 957.2,717.5 C959.5,718.3 962.6,718.8 963.7,719.1 L976.0,719.1"/>
</g>
<g fill="none" stroke="#000" stroke-width="3.3" stroke-linecap="square">
<path d="M28.4,55.7 H976.6 V938.2 H28.4 Z" stroke-linejoin="miter"/>
</g>
<g stroke="#000" stroke-width="3.1" stroke-linecap="butt">
<path d="M976.6,55.6 H993.6 M976.6,276.3 H993.6 M976.6,497.0 H993.6 M976.6,717.7 H993.6 M976.6,938.3 H993.6"/>
<path d="M162.5,938.2 V954.9 M434.5,938.2 V954.9 M706.6,938.2 V954.9 M976.6,938.2 V954.9"/>
</g>
<g font-size="60">
<text transform="translate(66.2,126.9) scale(1.005,1)">Prepared Chitin</text>
<text transform="translate(1028.2,75.1) scale(0.97,1.0)" font-size="61">0.4</text>
<text transform="translate(1028.2,295.5) scale(0.97,1.0)" font-size="61">0.3</text>
<text transform="translate(1028.2,515.9) scale(0.97,1.0)" font-size="61">0.2</text>
<text transform="translate(1028.2,736.6) scale(0.97,1.0)" font-size="61">0.1</text>
<text transform="translate(1028.2,958.0) scale(0.97,1.0)" font-size="61">0</text>
<text transform="translate(162.5,1027.6) scale(1.0,1.0)" text-anchor="middle" font-size="61">3600</text>
<text transform="translate(434.5,1027.6) scale(1.0,1.0)" text-anchor="middle" font-size="61">3400</text>
<text transform="translate(706.6,1027.6) scale(1.0,1.0)" text-anchor="middle" font-size="61">3200</text>
<text transform="translate(976.2,1027.6) scale(1.0,1.0)" text-anchor="middle" font-size="61">3000</text>
<text transform="translate(241,1097.8) scale(1.0068,1)">Wavenumber (cm</text>
<rect x="702.2" y="1070.6" width="20.6" height="2.8" fill="#000"/>
<text transform="translate(722.4,1081.4) scale(0.93,1)" font-size="41.5" style="will-change:transform">1</text>
<text x="742" y="1097.8">)</text>
<text transform="translate(156.5,753.9) scale(1.0,1.0)" text-anchor="middle" font-size="61">1</text>
<text transform="translate(345.4,410.9) scale(1.0,1.0)" text-anchor="middle" font-size="61">2</text>
<text transform="translate(614.6,550.0) scale(1.0,1.0)" text-anchor="middle" font-size="61">3</text>
<text transform="translate(847.9,795.5) scale(1.0,1.0)" text-anchor="middle" font-size="61">4</text>
<text transform="translate(1159.6,647.7) rotate(-90) scale(0.983,1)">Absorbance</text>
<text transform="translate(521,1255.5) scale(0.9,1)" font-size="67" style="font-weight:normal">(</text>
<text x="542" y="1255.5" font-size="67">a</text>
<text transform="translate(575.15,1255.5) scale(0.9,1)" font-size="67" style="font-weight:normal">)</text>
</g>
</svg>
</body></html>
